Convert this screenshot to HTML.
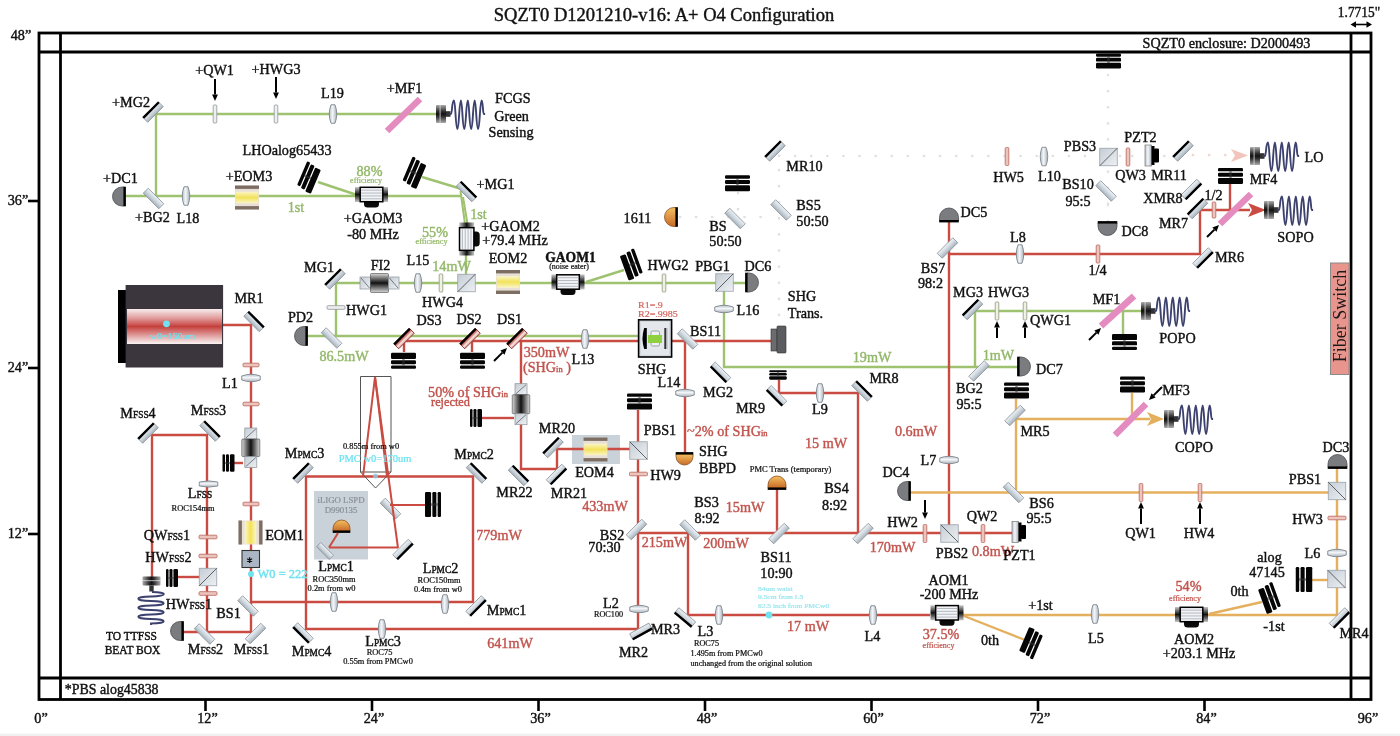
<!DOCTYPE html>
<html><head><meta charset="utf-8"><title>SQZT0 layout</title>
<style>html,body{margin:0;padding:0;background:#fff;}svg{display:block;filter:blur(0.35px);}text{font-family:"Liberation Serif",serif;}</style>
</head><body>
<svg width="1400" height="736" viewBox="0 0 1400 736">
<defs>
<linearGradient id="gMir" x1="0" y1="0" x2="0" y2="1"><stop offset="0" stop-color="#eef3f7"/><stop offset="0.5" stop-color="#cfd8df"/><stop offset="1" stop-color="#a8b2bb"/></linearGradient>
<linearGradient id="gDark" x1="0" y1="0" x2="0" y2="1"><stop offset="0" stop-color="#902828"/><stop offset="0.4" stop-color="#d27a72"/><stop offset="0.65" stop-color="#f6e2de"/><stop offset="1" stop-color="#e2a098"/></linearGradient>
<linearGradient id="gLensV" x1="0" y1="0" x2="1" y2="0"><stop offset="0" stop-color="#b8c0c8"/><stop offset="0.45" stop-color="#f4f7fa"/><stop offset="1" stop-color="#a8b0b8"/></linearGradient>
<linearGradient id="gLensH" x1="0" y1="0" x2="0" y2="1"><stop offset="0" stop-color="#b8c0c8"/><stop offset="0.45" stop-color="#f4f7fa"/><stop offset="1" stop-color="#a8b0b8"/></linearGradient>
<linearGradient id="gPbs" x1="0" y1="0" x2="1" y2="1"><stop offset="0" stop-color="#c4ccd4"/><stop offset="1" stop-color="#eef1f4"/></linearGradient>
<linearGradient id="gYel" x1="0" y1="0" x2="0" y2="1"><stop offset="0" stop-color="#fbf6c8"/><stop offset="0.5" stop-color="#f2e25a"/><stop offset="1" stop-color="#fbf6c8"/></linearGradient>
<linearGradient id="gAom" x1="0" y1="0" x2="0" y2="1"><stop offset="0" stop-color="#eef0f2"/><stop offset="1" stop-color="#c8ccd0"/></linearGradient>
<linearGradient id="gCoup" x1="0" y1="0" x2="0" y2="1"><stop offset="0" stop-color="#aaa"/><stop offset="0.35" stop-color="#333"/><stop offset="0.5" stop-color="#111"/><stop offset="0.65" stop-color="#333"/><stop offset="1" stop-color="#aaa"/></linearGradient>
<linearGradient id="gOrange" x1="0" y1="0" x2="0" y2="1"><stop offset="0" stop-color="#f4c060"/><stop offset="1" stop-color="#c86a28"/></linearGradient>
<linearGradient id="gLaser" x1="0" y1="0" x2="0" y2="1"><stop offset="0" stop-color="#f6ecec"/><stop offset="0.25" stop-color="#e2a0a0"/><stop offset="0.5" stop-color="#c4403c"/><stop offset="0.72" stop-color="#dc9090"/><stop offset="1" stop-color="#faf4f4"/></linearGradient>
<linearGradient id="gFI" x1="0" y1="0" x2="1" y2="0"><stop offset="0" stop-color="#d8d8d8"/><stop offset="0.5" stop-color="#111"/><stop offset="1" stop-color="#d8d8d8"/></linearGradient>
<linearGradient id="gFIv" x1="0" y1="0" x2="0" y2="1"><stop offset="0" stop-color="#d8d8d8"/><stop offset="0.5" stop-color="#111"/><stop offset="1" stop-color="#d8d8d8"/></linearGradient>
<linearGradient id="gCap" x1="0" y1="0" x2="0" y2="1"><stop offset="0" stop-color="#c8c8c8"/><stop offset="0.5" stop-color="#111"/><stop offset="1" stop-color="#c8c8c8"/></linearGradient>
<linearGradient id="gCoupV" x1="0" y1="0" x2="1" y2="0"><stop offset="0" stop-color="#aaa"/><stop offset="0.35" stop-color="#333"/><stop offset="0.5" stop-color="#111"/><stop offset="0.65" stop-color="#333"/><stop offset="1" stop-color="#aaa"/></linearGradient>
</defs>
<rect width="1400" height="736" fill="#fff"/>
<rect x="0" y="733.5" width="1400" height="2.5" fill="#f1f1f1"/>
<rect x="39" y="33" width="1332" height="666.5" fill="none" stroke="#000" stroke-width="2.8"/>
<line x1="39" y1="52" x2="1371" y2="52" stroke="#000" stroke-width="2.8" />
<line x1="39" y1="678" x2="1371" y2="678" stroke="#000" stroke-width="2.8" />
<line x1="60.5" y1="33" x2="60.5" y2="699.5" stroke="#000" stroke-width="2.8" />
<line x1="1351" y1="33" x2="1351" y2="699.5" stroke="#000" stroke-width="2.8" />
<line x1="28" y1="201" x2="39" y2="201" stroke="#000" stroke-width="2.6" />
<line x1="28" y1="368" x2="39" y2="368" stroke="#000" stroke-width="2.6" />
<line x1="28" y1="534" x2="39" y2="534" stroke="#000" stroke-width="2.6" />
<text transform="translate(21,39.7) scale(1,1.065)" font-size="14.2" fill="#111" stroke="#111" stroke-width="0.4" text-anchor="middle" >48”</text>
<text transform="translate(18,205.2) scale(1,1.065)" font-size="14.2" fill="#111" stroke="#111" stroke-width="0.4" text-anchor="middle" >36”</text>
<text transform="translate(18,372.2) scale(1,1.065)" font-size="14.2" fill="#111" stroke="#111" stroke-width="0.4" text-anchor="middle" >24”</text>
<text transform="translate(18,538.2) scale(1,1.065)" font-size="14.2" fill="#111" stroke="#111" stroke-width="0.4" text-anchor="middle" >12”</text>
<line x1="205.5" y1="699" x2="205.5" y2="711" stroke="#000" stroke-width="2.6" />
<line x1="372.0" y1="699" x2="372.0" y2="711" stroke="#000" stroke-width="2.6" />
<line x1="538.5" y1="699" x2="538.5" y2="711" stroke="#000" stroke-width="2.6" />
<line x1="705.0" y1="699" x2="705.0" y2="711" stroke="#000" stroke-width="2.6" />
<line x1="871.5" y1="699" x2="871.5" y2="711" stroke="#000" stroke-width="2.6" />
<line x1="1038.0" y1="699" x2="1038.0" y2="711" stroke="#000" stroke-width="2.6" />
<line x1="1204.5" y1="699" x2="1204.5" y2="711" stroke="#000" stroke-width="2.6" />
<text transform="translate(41.0,723.0) scale(1,1.065)" font-size="14.2" fill="#111" stroke="#111" stroke-width="0.4" text-anchor="middle" >0”</text>
<text transform="translate(207.5,723.0) scale(1,1.065)" font-size="14.2" fill="#111" stroke="#111" stroke-width="0.4" text-anchor="middle" >12”</text>
<text transform="translate(374.0,723.0) scale(1,1.065)" font-size="14.2" fill="#111" stroke="#111" stroke-width="0.4" text-anchor="middle" >24”</text>
<text transform="translate(540.5,723.0) scale(1,1.065)" font-size="14.2" fill="#111" stroke="#111" stroke-width="0.4" text-anchor="middle" >36”</text>
<text transform="translate(707.0,723.0) scale(1,1.065)" font-size="14.2" fill="#111" stroke="#111" stroke-width="0.4" text-anchor="middle" >48”</text>
<text transform="translate(873.5,723.0) scale(1,1.065)" font-size="14.2" fill="#111" stroke="#111" stroke-width="0.4" text-anchor="middle" >60”</text>
<text transform="translate(1040.0,723.0) scale(1,1.065)" font-size="14.2" fill="#111" stroke="#111" stroke-width="0.4" text-anchor="middle" >72”</text>
<text transform="translate(1206.5,723.0) scale(1,1.065)" font-size="14.2" fill="#111" stroke="#111" stroke-width="0.4" text-anchor="middle" >84”</text>
<text transform="translate(1368,723.0) scale(1,1.065)" font-size="14.2" fill="#111" stroke="#111" stroke-width="0.4" text-anchor="middle" >96”</text>
<text x="664" y="21.4" font-size="18.5" fill="#111" stroke="#111" stroke-width="0.4" text-anchor="middle" >SQZT0 D1201210-v16: A+ O4 Configuration</text>
<text transform="translate(1359,17.0) scale(1,1.065)" font-size="13.4" fill="#111" stroke="#111" stroke-width="0.4" text-anchor="middle" >1.7715"</text>
<line x1="1354" y1="24.5" x2="1368" y2="24.5" stroke="#000" stroke-width="1.6" />
<path d="M1350.5,24.5 L1356,21.3 L1356,27.7 Z M1372,24.5 L1366.5,21.3 L1366.5,27.7 Z" fill="#000"/>
<text transform="translate(1226.5,47.5) scale(1,1.065)" font-size="14.2" fill="#111" stroke="#111" stroke-width="0.4" text-anchor="middle" >SQZT0 enclosure: D2000493</text>
<text transform="translate(64.8,694.2) scale(1,1.065)" font-size="13.9" fill="#111" stroke="#111" stroke-width="0.4" >*PBS alog45838</text>
<rect x="314" y="491" width="54" height="68.5" fill="#c9d1d9"/>
<text transform="translate(341,503) scale(1,0.9)" font-size="8.8" fill="#8a9198" stroke="#8a9198" stroke-width="0.24" text-anchor="middle" >iLIGO LSPD</text>
<text transform="translate(341,513) scale(1,0.9)" font-size="8.8" fill="#8a9198" stroke="#8a9198" stroke-width="0.24" text-anchor="middle" >D990135</text>
<rect x="572" y="435" width="48" height="29" fill="#c9d1d9"/>
<polyline points="779,156 1100,156" fill="none" stroke="#e0e0e4" stroke-width="2.6" stroke-dasharray="0.1 16" stroke-linecap="round"/>
<polyline points="1116,156 1183,156" fill="none" stroke="#e0e0e4" stroke-width="2.6" stroke-dasharray="0.1 16" stroke-linecap="round"/>
<polyline points="779,170 779,330" fill="none" stroke="#e0e0e4" stroke-width="2.6" stroke-dasharray="0.1 16" stroke-linecap="round"/>
<polyline points="680,217 771,217" fill="none" stroke="#e0e0e4" stroke-width="2.6" stroke-dasharray="0.1 16" stroke-linecap="round"/>
<polyline points="738,193 738,210" fill="none" stroke="#e0e0e4" stroke-width="2.6" stroke-dasharray="0.1 16" stroke-linecap="round"/>
<polyline points="1108,75 1108,205" fill="none" stroke="#e0e0e4" stroke-width="2.6" stroke-dasharray="0.1 16" stroke-linecap="round"/>
<polyline points="1108,205 1108,222" fill="none" stroke="#e0e0e4" stroke-width="2.6" stroke-dasharray="0.1 16" stroke-linecap="round"/>
<polyline points="1193,155 1232,155" fill="none" stroke="#f4d4d0" stroke-width="2.6" stroke-dasharray="0.1 16" stroke-linecap="round"/>
<path d="M1248,155.5 L1231,149 L1235,155.5 L1231,162 Z" fill="#f2c4bc"/>
<polyline points="1120,156 1128,156" fill="none" stroke="#e0e0e4" stroke-width="2.6" stroke-dasharray="0.1 16" stroke-linecap="round"/>
<polyline points="436,114 156,114 156,196" fill="none" stroke="#9ec26f" stroke-width="2.4" stroke-opacity="1"/>
<polyline points="125,196 461,196" fill="none" stroke="#9ec26f" stroke-width="2.4" stroke-opacity="1"/>
<polyline points="318,182 357,195" fill="none" stroke="#9ec26f" stroke-width="2.4" stroke-opacity="1"/>
<polyline points="422,177 460,188.5" fill="none" stroke="#9ec26f" stroke-width="2.4" stroke-opacity="1"/>
<polyline points="460.5,191 465,224" fill="none" stroke="#9ec26f" stroke-width="2.0" stroke-opacity="1"/>
<polyline points="463,197 467.5,224" fill="none" stroke="#9ec26f" stroke-width="2.0" stroke-opacity="1"/>
<polyline points="466,254 466,283" fill="none" stroke="#9ec26f" stroke-width="2.4" stroke-opacity="1"/>
<polyline points="746,283 336,283 336,336" fill="none" stroke="#9ec26f" stroke-width="2.4" stroke-opacity="1"/>
<polyline points="586,282 624,270" fill="none" stroke="#9ec26f" stroke-width="2.4" stroke-opacity="1"/>
<polyline points="307,336 640,336" fill="none" stroke="#9ec26f" stroke-width="2.4" stroke-opacity="1"/>
<polyline points="724,283 724,367 1018,367" fill="none" stroke="#9ec26f" stroke-width="2.4" stroke-opacity="1"/>
<polyline points="975,367 975,311 1141,311" fill="none" stroke="#9ec26f" stroke-width="2.4" stroke-opacity="1"/>
<polyline points="1123,311 1123,334" fill="none" stroke="#9ec26f" stroke-width="2.4" stroke-opacity="1"/>
<polyline points="222,325 251,325 251,632 183,632" fill="none" stroke="#ca4b41" stroke-width="2.4" stroke-opacity="1"/>
<polyline points="152,577 152,435 207,435 207,632" fill="none" stroke="#ca4b41" stroke-width="2.4" stroke-opacity="1"/>
<polyline points="234,463 243,463" fill="none" stroke="#ca4b41" stroke-width="2.4" stroke-opacity="1"/>
<polyline points="178,577 200,577" fill="none" stroke="#ca4b41" stroke-width="2.4" stroke-opacity="1"/>
<polyline points="251,602 473,602 473,476.5 306,476.5 306,629 638,629" fill="none" stroke="#ca4b41" stroke-width="2.4" stroke-opacity="1"/>
<polyline points="404,352 404,341 640,341" fill="none" stroke="#ca4b41" stroke-width="2.4" stroke-opacity="1"/>
<polyline points="472,352 472,341" fill="none" stroke="#ca4b41" stroke-width="2.4" stroke-opacity="1"/>
<polyline points="521,341 521,469 557,469 557,449 638,449" fill="none" stroke="#ca4b41" stroke-width="2.4" stroke-opacity="1"/>
<polyline points="482,418 514,418" fill="none" stroke="#ca4b41" stroke-width="2.4" stroke-opacity="1"/>
<polyline points="671,341 771,341" fill="none" stroke="#ca4b41" stroke-width="2.4" stroke-opacity="1"/>
<polyline points="685,341 685,453" fill="none" stroke="#ca4b41" stroke-width="2.4" stroke-opacity="1"/>
<polyline points="638,410 638,629" fill="none" stroke="#ca4b41" stroke-width="2.4" stroke-opacity="1"/>
<polyline points="638,533 1012,533" fill="none" stroke="#ca4b41" stroke-width="2.4" stroke-opacity="1"/>
<polyline points="688,533 688,615 930,615" fill="none" stroke="#ca4b41" stroke-width="2.4" stroke-opacity="1"/>
<polyline points="777,489 777,533" fill="none" stroke="#ca4b41" stroke-width="2.4" stroke-opacity="1"/>
<polyline points="779,380 779,393 858,393 858,533" fill="none" stroke="#ca4b41" stroke-width="2.4" stroke-opacity="1"/>
<polyline points="949,221 949,533" fill="none" stroke="#ca4b41" stroke-width="2.4" stroke-opacity="1"/>
<polyline points="949,254 1200,254 1200,210 1250,210" fill="none" stroke="#ca4b41" stroke-width="2.4" stroke-opacity="1"/>
<polyline points="1230,184 1230,210" fill="none" stroke="#ca4b41" stroke-width="2.4" stroke-opacity="1"/>
<path d="M1266,210 L1248,203 L1252,210 L1248,217 Z" fill="#ca4b41"/>
<polyline points="910,492.5 1337,492.5" fill="none" stroke="#e4b05e" stroke-width="2.4" stroke-opacity="1"/>
<polyline points="1016,399 1016,492.5" fill="none" stroke="#e4b05e" stroke-width="2.4" stroke-opacity="1"/>
<polyline points="1016,419 1150,419" fill="none" stroke="#e4b05e" stroke-width="2.4" stroke-opacity="1"/>
<path d="M1164,419 L1147,412 L1151,419 L1147,426 Z" fill="#e4b05e"/>
<polyline points="1132,393 1132,419" fill="none" stroke="#e4b05e" stroke-width="2.4" stroke-opacity="1"/>
<polyline points="1337,468 1337,615 963,615" fill="none" stroke="#e4b05e" stroke-width="2.4" stroke-opacity="1"/>
<polyline points="1312,580 1337,580" fill="none" stroke="#e4b05e" stroke-width="2.4" stroke-opacity="1"/>
<polyline points="964,616 1025,640" fill="none" stroke="#e4b05e" stroke-width="2.4" stroke-opacity="1"/>
<polyline points="1209,614 1262,602" fill="none" stroke="#e4b05e" stroke-width="2.4" stroke-opacity="1"/>
<g transform="translate(153,112) rotate(-45)"><rect x="-11.0" y="-3.5" width="22" height="7" fill="url(#gMir)" stroke="#8d9399" stroke-width="0.8"/><rect x="-11.0" y="-4.0" width="22" height="2.4" fill="#000"/></g>
<g transform="translate(466.5,191.5) rotate(45)"><rect x="-11.0" y="-3.5" width="22" height="7" fill="url(#gMir)" stroke="#8d9399" stroke-width="0.8"/><rect x="-11.0" y="-4.0" width="22" height="2.4" fill="#000"/></g>
<g transform="translate(153.5,198.5) rotate(45)"><rect x="-11.0" y="-3.5" width="22" height="7" fill="url(#gMir)" stroke="#8d9399" stroke-width="0.8"/></g>
<g transform="translate(254,321.5) rotate(45)"><rect x="-11.0" y="-3.5" width="22" height="7" fill="url(#gMir)" stroke="#8d9399" stroke-width="0.8"/><rect x="-11.0" y="-4.0" width="22" height="2.4" fill="#000"/></g>
<g transform="translate(335,279) rotate(-45)"><rect x="-11.0" y="-3.5" width="22" height="7" fill="url(#gMir)" stroke="#8d9399" stroke-width="0.8"/><rect x="-11.0" y="-4.0" width="22" height="2.4" fill="#000"/></g>
<g transform="translate(331.5,338) rotate(45)"><rect x="-11.0" y="-3.5" width="22" height="7" fill="url(#gMir)" stroke="#8d9399" stroke-width="0.8"/></g>
<g transform="translate(148,433) rotate(-45)"><rect x="-11.0" y="-3.5" width="22" height="7" fill="url(#gMir)" stroke="#8d9399" stroke-width="0.8"/><rect x="-11.0" y="-4.0" width="22" height="2.4" fill="#000"/></g>
<g transform="translate(210,431) rotate(45)"><rect x="-11.0" y="-3.5" width="22" height="7" fill="url(#gMir)" stroke="#8d9399" stroke-width="0.8"/><rect x="-11.0" y="-4.0" width="22" height="2.4" fill="#000"/></g>
<g transform="translate(248,606) rotate(45)"><rect x="-11.0" y="-3.5" width="22" height="7" fill="url(#gMir)" stroke="#8d9399" stroke-width="0.8"/></g>
<g transform="translate(204.5,634) rotate(45)"><rect x="-11.0" y="-3.5" width="22" height="7" fill="url(#gMir)" stroke="#8d9399" stroke-width="0.8"/></g>
<g transform="translate(255.5,633.5) rotate(-45)"><rect x="-11.0" y="-3.5" width="22" height="7" fill="url(#gMir)" stroke="#8d9399" stroke-width="0.8"/></g>
<g transform="translate(303,473) rotate(-45)"><rect x="-11.0" y="-3.5" width="22" height="7" fill="url(#gMir)" stroke="#8d9399" stroke-width="0.8"/><rect x="-11.0" y="-4.0" width="22" height="2.4" fill="#000"/></g>
<g transform="translate(303,633) rotate(45)"><rect x="-11.0" y="-3.5" width="22" height="7" fill="url(#gMir)" stroke="#8d9399" stroke-width="0.8"/><rect x="-11.0" y="1.6" width="22" height="2.4" fill="#000"/></g>
<g transform="translate(476.5,473) rotate(45)"><rect x="-11.0" y="-3.5" width="22" height="7" fill="url(#gMir)" stroke="#8d9399" stroke-width="0.8"/><rect x="-11.0" y="-4.0" width="22" height="2.4" fill="#000"/></g>
<g transform="translate(476,606) rotate(-45)"><rect x="-11.0" y="-3.5" width="22" height="7" fill="url(#gMir)" stroke="#8d9399" stroke-width="0.8"/><rect x="-11.0" y="1.6" width="22" height="2.4" fill="#000"/></g>
<g transform="translate(390.5,508.5) rotate(45)"><rect x="-11.0" y="-3.5" width="22" height="7" fill="url(#gMir)" stroke="#8d9399" stroke-width="0.8"/></g>
<g transform="translate(325,551) rotate(45)"><rect x="-9.0" y="-3.0" width="18" height="6" fill="url(#gMir)" stroke="#8d9399" stroke-width="0.8"/></g>
<g transform="translate(403,549.5) rotate(-45)"><rect x="-11.0" y="-3.5" width="22" height="7" fill="url(#gMir)" stroke="#8d9399" stroke-width="0.8"/><rect x="-11.0" y="1.6" width="22" height="2.4" fill="#000"/></g>
<g transform="translate(404,338.5) rotate(-45)"><rect x="-11.0" y="-3.5" width="22" height="7" fill="url(#gDark)" stroke="#7a2020" stroke-width="0.8"/><rect x="-11.0" y="-4.0" width="22" height="2.4" fill="#000"/></g>
<g transform="translate(470,338.5) rotate(-45)"><rect x="-11.0" y="-3.5" width="22" height="7" fill="url(#gDark)" stroke="#7a2020" stroke-width="0.8"/><rect x="-11.0" y="-4.0" width="22" height="2.4" fill="#000"/></g>
<g transform="translate(517,338.5) rotate(-45)"><rect x="-11.0" y="-3.5" width="22" height="7" fill="url(#gDark)" stroke="#7a2020" stroke-width="0.8"/><rect x="-11.0" y="-4.0" width="22" height="2.4" fill="#000"/></g>
<g transform="translate(553,447.5) rotate(-45)"><rect x="-11.0" y="-3.5" width="22" height="7" fill="url(#gMir)" stroke="#8d9399" stroke-width="0.8"/><rect x="-11.0" y="-4.0" width="22" height="2.4" fill="#000"/></g>
<g transform="translate(518.5,475.5) rotate(45)"><rect x="-11.0" y="-3.5" width="22" height="7" fill="url(#gMir)" stroke="#8d9399" stroke-width="0.8"/><rect x="-11.0" y="-4.0" width="22" height="2.4" fill="#000"/></g>
<g transform="translate(556.5,474.5) rotate(-45)"><rect x="-11.0" y="-3.5" width="22" height="7" fill="url(#gMir)" stroke="#8d9399" stroke-width="0.8"/><rect x="-11.0" y="1.6" width="22" height="2.4" fill="#000"/></g>
<g transform="translate(687.5,339) rotate(45)"><rect x="-11.0" y="-3.5" width="22" height="7" fill="url(#gMir)" stroke="#8d9399" stroke-width="0.8"/></g>
<g transform="translate(720.5,372.3) rotate(45)"><rect x="-11.0" y="-3.5" width="22" height="7" fill="url(#gMir)" stroke="#8d9399" stroke-width="0.8"/><rect x="-11.0" y="1.6" width="22" height="2.4" fill="#000"/></g>
<g transform="translate(776.5,395.8) rotate(45)"><rect x="-11.0" y="-3.5" width="22" height="7" fill="url(#gMir)" stroke="#8d9399" stroke-width="0.8"/><rect x="-11.0" y="1.6" width="22" height="2.4" fill="#000"/></g>
<g transform="translate(862,391) rotate(45)"><rect x="-11.0" y="-3.5" width="22" height="7" fill="url(#gMir)" stroke="#8d9399" stroke-width="0.8"/><rect x="-11.0" y="-4.0" width="22" height="2.4" fill="#000"/></g>
<g transform="translate(775,151) rotate(-45)"><rect x="-11.0" y="-3.5" width="22" height="7" fill="url(#gMir)" stroke="#8d9399" stroke-width="0.8"/><rect x="-11.0" y="-4.0" width="22" height="2.4" fill="#000"/></g>
<g transform="translate(781,210) rotate(45)"><rect x="-11.0" y="-3.5" width="22" height="7" fill="url(#gMir)" stroke="#8d9399" stroke-width="0.8"/></g>
<g transform="translate(735,218.5) rotate(45)"><rect x="-11.0" y="-3.5" width="22" height="7" fill="url(#gMir)" stroke="#8d9399" stroke-width="0.8"/></g>
<g transform="translate(636.5,529.5) rotate(-45)"><rect x="-11.0" y="-3.5" width="22" height="7" fill="url(#gMir)" stroke="#8d9399" stroke-width="0.8"/></g>
<g transform="translate(690,530) rotate(45)"><rect x="-11.0" y="-3.5" width="22" height="7" fill="url(#gMir)" stroke="#8d9399" stroke-width="0.8"/></g>
<g transform="translate(779,533.5) rotate(-45)"><rect x="-11.0" y="-3.5" width="22" height="7" fill="url(#gMir)" stroke="#8d9399" stroke-width="0.8"/></g>
<g transform="translate(863,533.5) rotate(-45)"><rect x="-11.0" y="-3.5" width="22" height="7" fill="url(#gMir)" stroke="#8d9399" stroke-width="0.8"/></g>
<g transform="translate(641,631.5) rotate(-29)"><rect x="-11.0" y="-3.5" width="22" height="7" fill="url(#gMir)" stroke="#8d9399" stroke-width="0.8"/><rect x="-11.0" y="1.6" width="22" height="2.4" fill="#000"/></g>
<g transform="translate(685,617.5) rotate(40)"><rect x="-11.0" y="-3.5" width="22" height="7" fill="url(#gMir)" stroke="#8d9399" stroke-width="0.8"/><rect x="-11.0" y="1.6" width="22" height="2.4" fill="#000"/></g>
<g transform="translate(947.5,248) rotate(-45)"><rect x="-11.0" y="-3.5" width="22" height="7" fill="url(#gMir)" stroke="#8d9399" stroke-width="0.8"/></g>
<g transform="translate(972.5,309.5) rotate(-45)"><rect x="-11.0" y="-3.5" width="22" height="7" fill="url(#gMir)" stroke="#8d9399" stroke-width="0.8"/><rect x="-11.0" y="-4.0" width="22" height="2.4" fill="#000"/></g>
<g transform="translate(979,371) rotate(-45)"><rect x="-11.0" y="-3.5" width="22" height="7" fill="url(#gMir)" stroke="#8d9399" stroke-width="0.8"/></g>
<g transform="translate(1015,415.5) rotate(-45)"><rect x="-11.0" y="-3.5" width="22" height="7" fill="url(#gMir)" stroke="#8d9399" stroke-width="0.8"/></g>
<g transform="translate(1013.5,492.5) rotate(45)"><rect x="-11.0" y="-3.5" width="22" height="7" fill="url(#gMir)" stroke="#8d9399" stroke-width="0.8"/></g>
<g transform="translate(1106,191) rotate(45)"><rect x="-11.0" y="-3.5" width="22" height="7" fill="url(#gMir)" stroke="#8d9399" stroke-width="0.8"/></g>
<g transform="translate(1183,151) rotate(-45)"><rect x="-11.0" y="-3.5" width="22" height="7" fill="url(#gMir)" stroke="#8d9399" stroke-width="0.8"/><rect x="-11.0" y="-4.0" width="22" height="2.4" fill="#000"/></g>
<g transform="translate(1191.5,189.5) rotate(-45)"><rect x="-11.0" y="-3.5" width="22" height="7" fill="url(#gMir)" stroke="#8d9399" stroke-width="0.8"/><rect x="-11.0" y="1.6" width="22" height="2.4" fill="#000"/></g>
<g transform="translate(1197.5,208.5) rotate(-45)"><rect x="-11.0" y="-3.5" width="22" height="7" fill="url(#gMir)" stroke="#8d9399" stroke-width="0.8"/><rect x="-11.0" y="-4.0" width="22" height="2.4" fill="#000"/></g>
<g transform="translate(1203,258) rotate(-45)"><rect x="-11.0" y="-3.5" width="22" height="7" fill="url(#gMir)" stroke="#8d9399" stroke-width="0.8"/><rect x="-11.0" y="1.6" width="22" height="2.4" fill="#000"/></g>
<g transform="translate(1339.5,618) rotate(-45)"><rect x="-11.0" y="-3.5" width="22" height="7" fill="url(#gMir)" stroke="#8d9399" stroke-width="0.8"/><rect x="-11.0" y="1.6" width="22" height="2.4" fill="#000"/></g>
<rect x="213.2" y="105.0" width="3.6" height="18" rx="1" fill="#eef0f0" stroke="#9aa0a4" stroke-width="0.9"/>
<rect x="274.2" y="105.0" width="3.6" height="18" rx="1" fill="#eef0f0" stroke="#9aa0a4" stroke-width="0.9"/>
<path d="M331.0,104.75 L335.0,104.75 Q338.5,114 335.0,123.25 L331.0,123.25 Q327.5,114 331.0,104.75 Z" fill="url(#gLensV)" stroke="#7e878f" stroke-width="0.9"/>
<path d="M184.0,186.75 L188.0,186.75 Q191.5,196 188.0,205.25 L184.0,205.25 Q180.5,196 184.0,186.75 Z" fill="url(#gLensV)" stroke="#7e878f" stroke-width="0.9"/>
<path d="M416.0,273.75 L420.0,273.75 Q423.5,283 420.0,292.25 L416.0,292.25 Q412.5,283 416.0,273.75 Z" fill="url(#gLensV)" stroke="#7e878f" stroke-width="0.9"/>
<rect x="439.2" y="274.0" width="3.6" height="18" rx="1" fill="#eef2e4" stroke="#9aa088" stroke-width="0.9"/>
<rect x="662.2" y="274.0" width="3.6" height="18" rx="1" fill="#eef2e4" stroke="#9aa088" stroke-width="0.9"/>
<path d="M583.0,329.75 L587.0,329.75 Q590.5,339 587.0,348.25 L583.0,348.25 Q579.5,339 583.0,329.75 Z" fill="url(#gLensV)" stroke="#7e878f" stroke-width="0.9"/>
<path d="M818.0,383.75 L822.0,383.75 Q825.5,393 822.0,402.25 L818.0,402.25 Q814.5,393 818.0,383.75 Z" fill="url(#gLensV)" stroke="#7e878f" stroke-width="0.9"/>
<path d="M1018.0,244.75 L1022.0,244.75 Q1025.5,254 1022.0,263.25 L1018.0,263.25 Q1014.5,254 1018.0,244.75 Z" fill="url(#gLensV)" stroke="#7e878f" stroke-width="0.9"/>
<rect x="1096.2" y="245.0" width="3.6" height="18" rx="1" fill="#ecc4be" stroke="#c07068" stroke-width="0.9"/>
<rect x="1005.2" y="147.5" width="3.6" height="18" rx="1" fill="#ecc4be" stroke="#c07068" stroke-width="0.9"/>
<path d="M1042.0,147.25 L1046.0,147.25 Q1049.5,156.5 1046.0,165.75 L1042.0,165.75 Q1038.5,156.5 1042.0,147.25 Z" fill="url(#gLensV)" stroke="#7e878f" stroke-width="0.9"/>
<rect x="1126.2" y="148.0" width="3.6" height="18" rx="1" fill="#ecc4be" stroke="#c07068" stroke-width="0.9"/>
<rect x="1212.2" y="202.0" width="3.6" height="16" rx="1" fill="#ecc4be" stroke="#c07068" stroke-width="0.9"/>
<rect x="995.2" y="302.0" width="3.6" height="18" rx="1" fill="#eef2e4" stroke="#9aa088" stroke-width="0.9"/>
<rect x="1023.2" y="302.0" width="3.6" height="18" rx="1" fill="#eef2e4" stroke="#9aa088" stroke-width="0.9"/>
<rect x="1139.2" y="483.5" width="3.6" height="18" rx="1" fill="#ecc4be" stroke="#c07068" stroke-width="0.9"/>
<rect x="1198.2" y="483.5" width="3.6" height="18" rx="1" fill="#ecc4be" stroke="#c07068" stroke-width="0.9"/>
<rect x="923.2" y="524.5" width="3.6" height="18" rx="1" fill="#ecc4be" stroke="#c07068" stroke-width="0.9"/>
<rect x="981.2" y="524.5" width="3.6" height="18" rx="1" fill="#ecc4be" stroke="#c07068" stroke-width="0.9"/>
<path d="M717.0,605.75 L721.0,605.75 Q724.5,615 721.0,624.25 L717.0,624.25 Q713.5,615 717.0,605.75 Z" fill="url(#gLensV)" stroke="#7e878f" stroke-width="0.9"/>
<path d="M871.0,605.75 L875.0,605.75 Q878.5,615 875.0,624.25 L871.0,624.25 Q867.5,615 871.0,605.75 Z" fill="url(#gLensV)" stroke="#7e878f" stroke-width="0.9"/>
<path d="M1093.0,604.75 L1097.0,604.75 Q1100.5,614 1097.0,623.25 L1093.0,623.25 Q1089.5,614 1093.0,604.75 Z" fill="url(#gLensV)" stroke="#7e878f" stroke-width="0.9"/>
<path d="M332.0,592.75 L336.0,592.75 Q339.5,602 336.0,611.25 L332.0,611.25 Q328.5,602 332.0,592.75 Z" fill="url(#gLensV)" stroke="#7e878f" stroke-width="0.9"/>
<path d="M443.0,594.75 L447.0,594.75 Q450.5,604 447.0,613.25 L443.0,613.25 Q439.5,604 443.0,594.75 Z" fill="url(#gLensV)" stroke="#7e878f" stroke-width="0.9"/>
<path d="M380.0,619.75 L384.0,619.75 Q387.5,629 384.0,638.25 L380.0,638.25 Q376.5,629 380.0,619.75 Z" fill="url(#gLensV)" stroke="#7e878f" stroke-width="0.9"/>
<path d="M241.75,376.0 L241.75,380.0 Q251,383.5 260.25,380.0 L260.25,376.0 Q251,372.5 241.75,376.0 Z" fill="url(#gLensH)" stroke="#7e878f" stroke-width="0.9"/>
<rect x="243.0" y="363.2" width="16" height="3.6" rx="1" fill="#ecc4be" stroke="#c07068" stroke-width="0.9"/>
<rect x="243.0" y="402.2" width="16" height="3.6" rx="1" fill="#ecc4be" stroke="#c07068" stroke-width="0.9"/>
<rect x="243.0" y="502.2" width="16" height="3.6" rx="1" fill="#ecc4be" stroke="#c07068" stroke-width="0.9"/>
<path d="M199.25,482.0 L199.25,486.0 Q208.5,488.2 217.75,486.0 L217.75,482.0 Q208.5,479.8 199.25,482.0 Z" fill="url(#gLensH)" stroke="#7e878f" stroke-width="0.9"/>
<rect x="199.0" y="535.2" width="18" height="3.6" rx="1" fill="#ecc4be" stroke="#c07068" stroke-width="0.9"/>
<rect x="199.0" y="554.2" width="18" height="3.6" rx="1" fill="#ecc4be" stroke="#c07068" stroke-width="0.9"/>
<rect x="199.0" y="591.7" width="18" height="3.6" rx="1" fill="#ecc4be" stroke="#c07068" stroke-width="0.9"/>
<rect x="327.0" y="305.7" width="18" height="3.6" rx="1" fill="#eef0f0" stroke="#9aa0a4" stroke-width="0.9"/>
<path d="M714.75,307.0 L714.75,311.0 Q724,314.5 733.25,311.0 L733.25,307.0 Q724,303.5 714.75,307.0 Z" fill="url(#gLensH)" stroke="#7e878f" stroke-width="0.9"/>
<path d="M675.75,391.0 L675.75,395.0 Q685,398.5 694.25,395.0 L694.25,391.0 Q685,387.5 675.75,391.0 Z" fill="url(#gLensH)" stroke="#7e878f" stroke-width="0.9"/>
<rect x="629.5" y="472.2" width="18" height="3.6" rx="1" fill="#ecc4be" stroke="#c07068" stroke-width="0.9"/>
<path d="M629.75,607.0 L629.75,611.0 Q639,614.5 648.25,611.0 L648.25,607.0 Q639,603.5 629.75,607.0 Z" fill="url(#gLensH)" stroke="#7e878f" stroke-width="0.9"/>
<path d="M939.75,458.0 L939.75,462.0 Q949,465.5 958.25,462.0 L958.25,458.0 Q949,454.5 939.75,458.0 Z" fill="url(#gLensH)" stroke="#7e878f" stroke-width="0.9"/>
<rect x="1328.0" y="516.2" width="18" height="3.6" rx="1" fill="#ecc4be" stroke="#c07068" stroke-width="0.9"/>
<path d="M1327.75,551.0 L1327.75,555.0 Q1337,558.5 1346.25,555.0 L1346.25,551.0 Q1337,547.5 1327.75,551.0 Z" fill="url(#gLensH)" stroke="#7e878f" stroke-width="0.9"/>
<rect x="457.75" y="274.25" width="17.5" height="17.5" fill="url(#gPbs)" stroke="#9aa2a8" stroke-width="0.8"/>
<line x1="457.75" y1="291.75" x2="475.25" y2="274.25" stroke="#4a5258" stroke-width="0.9" />
<rect x="715.75" y="273.75" width="17.5" height="17.5" fill="url(#gPbs)" stroke="#9aa2a8" stroke-width="0.8"/>
<line x1="715.75" y1="291.25" x2="733.25" y2="273.75" stroke="#4a5258" stroke-width="0.9" />
<rect x="199.25" y="568.25" width="17.5" height="17.5" fill="url(#gPbs)" stroke="#9aa2a8" stroke-width="0.8"/>
<line x1="199.25" y1="585.75" x2="216.75" y2="568.25" stroke="#4a5258" stroke-width="0.9" />
<rect x="629.75" y="441.75" width="17.5" height="17.5" fill="url(#gPbs)" stroke="#9aa2a8" stroke-width="0.8"/>
<line x1="629.75" y1="441.75" x2="647.25" y2="459.25" stroke="#4a5258" stroke-width="0.9" />
<rect x="1099.75" y="148.25" width="17.5" height="17.5" fill="url(#gPbs)" stroke="#9aa2a8" stroke-width="0.8"/>
<line x1="1099.75" y1="165.75" x2="1117.25" y2="148.25" stroke="#4a5258" stroke-width="0.9" />
<rect x="940.75" y="524.75" width="17.5" height="17.5" fill="url(#gPbs)" stroke="#9aa2a8" stroke-width="0.8"/>
<line x1="940.75" y1="524.75" x2="958.25" y2="542.25" stroke="#4a5258" stroke-width="0.9" />
<rect x="1328.25" y="482.25" width="17.5" height="17.5" fill="url(#gPbs)" stroke="#9aa2a8" stroke-width="0.8"/>
<line x1="1328.25" y1="482.25" x2="1345.75" y2="499.75" stroke="#4a5258" stroke-width="0.9" />
<rect x="1327.75" y="570.25" width="17.5" height="17.5" fill="url(#gPbs)" stroke="#9aa2a8" stroke-width="0.8"/>
<line x1="1327.75" y1="570.25" x2="1345.25" y2="587.75" stroke="#4a5258" stroke-width="0.9" />
<path d="M124,187.0 L122,187.0 A9.5 9.5 0 0 0 122,206.0 L124,206.0 Z" fill="#7a7c80" stroke="#4a4c50" stroke-width="0.8"/><rect x="123.5" y="186.7" width="2.4" height="19.6" fill="#000"/>
<path d="M306,326.5 L304,326.5 A9.5 9.5 0 0 0 304,345.5 L306,345.5 Z" fill="#7a7c80" stroke="#4a4c50" stroke-width="0.8"/><rect x="305.5" y="326.2" width="2.4" height="19.6" fill="#000"/>
<path d="M747,273.0 L749,273.0 A9.5 9.5 0 0 1 749,292.0 L747,292.0 Z" fill="#7a7c80" stroke="#4a4c50" stroke-width="0.8"/><rect x="745.1" y="272.7" width="2.4" height="19.6" fill="#000"/>
<path d="M676,207.5 L674,207.5 A9.5 9.5 0 0 0 674,226.5 L676,226.5 Z" fill="url(#gOrange)" stroke="#8a5020" stroke-width="0.8"/><rect x="675.5" y="207.2" width="2.4" height="19.6" fill="#000"/>
<path d="M939.5,220.5 L939.5,217.5 A9.5 9.5 0 0 1 958.5,217.5 L958.5,220.5 Z" fill="#7a7c80" stroke="#4a4c50" stroke-width="0.8"/><rect x="939.2" y="220.0" width="19.6" height="2.4" fill="#000"/>
<path d="M1098.0,223 L1098.0,226 A9.5 9.5 0 0 0 1117.0,226 L1117.0,223 Z" fill="#7a7c80" stroke="#4a4c50" stroke-width="0.8"/><rect x="1097.7" y="221.1" width="19.6" height="2.4" fill="#000"/>
<path d="M1019,357.0 L1021,357.0 A9.5 9.5 0 0 1 1021,376.0 L1019,376.0 Z" fill="#7a7c80" stroke="#4a4c50" stroke-width="0.8"/><rect x="1017.1" y="356.7" width="2.4" height="19.6" fill="#000"/>
<path d="M909,481.5 L907,481.5 A9.5 9.5 0 0 0 907,500.5 L909,500.5 Z" fill="#7a7c80" stroke="#4a4c50" stroke-width="0.8"/><rect x="908.5" y="481.2" width="2.4" height="19.6" fill="#000"/>
<path d="M1328.0,467 L1328.0,464 A9.5 9.5 0 0 1 1347.0,464 L1347.0,467 Z" fill="#7a7c80" stroke="#4a4c50" stroke-width="0.8"/><rect x="1327.7" y="466.5" width="19.6" height="2.4" fill="#000"/>
<path d="M182,621.5 L180,621.5 A9.5 9.5 0 0 0 180,640.5 L182,640.5 Z" fill="#7a7c80" stroke="#4a4c50" stroke-width="0.8"/><rect x="181.5" y="621.2" width="2.4" height="19.6" fill="#000"/>
<path d="M676.0,454 L676.0,456.5 A8.5 8.5 0 0 0 693.0,456.5 L693.0,454 Z" fill="url(#gOrange)" stroke="#8a5020" stroke-width="0.8"/><rect x="675.7" y="452.1" width="17.6" height="2.4" fill="#000"/>
<path d="M768,488 L768,485 A9 9 0 0 1 786,485 L786,488 Z" fill="url(#gOrange)" stroke="#8a5020" stroke-width="0.8"/><rect x="767.7" y="487.5" width="18.6" height="2.4" fill="#000"/>
<path d="M333.0,531 L333.0,528.5 A8.5 8.5 0 0 1 350.0,528.5 L350.0,531 Z" fill="url(#gOrange)" stroke="#8a5020" stroke-width="0.8"/><rect x="332.7" y="530.5" width="17.6" height="2.4" fill="#000"/>
<g transform="translate(309,177.5) rotate(-67)"><rect x="-11.70" y="-8.00" width="26" height="3.36" rx="1.20" fill="#050505"/><rect x="-13.00" y="-3.36" width="26" height="4.00" rx="1.20" fill="#050505"/><rect x="-14.30" y="1.92" width="26" height="6.08" rx="1.20" fill="#050505"/><rect x="-1.30" y="-4.84" width="2.60" height="6.96" fill="#333" opacity="0.55"/></g>
<g transform="translate(414.5,172.8) rotate(-67)"><rect x="-11.70" y="-8.00" width="26" height="3.36" rx="1.20" fill="#050505"/><rect x="-13.00" y="-3.36" width="26" height="4.00" rx="1.20" fill="#050505"/><rect x="-14.30" y="1.92" width="26" height="6.08" rx="1.20" fill="#050505"/><rect x="-1.30" y="-4.84" width="2.60" height="6.96" fill="#333" opacity="0.55"/></g>
<g transform="translate(631.3,264.5) rotate(70)"><rect x="-14.30" y="-8.00" width="26" height="3.36" rx="1.20" fill="#050505"/><rect x="-13.00" y="-3.36" width="26" height="4.00" rx="1.20" fill="#050505"/><rect x="-11.70" y="1.92" width="26" height="6.08" rx="1.20" fill="#050505"/><rect x="-1.30" y="-4.84" width="2.60" height="6.96" fill="#333" opacity="0.55"/></g>
<g transform="translate(737.5,183.3) rotate(0)"><rect x="-12.50" y="-8.00" width="25" height="3.36" rx="1.20" fill="#050505"/><rect x="-12.50" y="-3.36" width="25" height="4.00" rx="1.20" fill="#050505"/><rect x="-12.50" y="1.92" width="25" height="6.08" rx="1.20" fill="#050505"/><rect x="-1.25" y="-4.84" width="2.50" height="6.96" fill="#333" opacity="0.55"/></g>
<g transform="translate(403.5,360.8) rotate(180)"><rect x="-12.50" y="-8.00" width="25" height="3.36" rx="1.20" fill="#050505"/><rect x="-12.50" y="-3.36" width="25" height="4.00" rx="1.20" fill="#050505"/><rect x="-12.50" y="1.92" width="25" height="6.08" rx="1.20" fill="#050505"/><rect x="-1.25" y="-4.84" width="2.50" height="6.96" fill="#333" opacity="0.55"/></g>
<g transform="translate(472.5,360.8) rotate(180)"><rect x="-12.50" y="-8.00" width="25" height="3.36" rx="1.20" fill="#050505"/><rect x="-12.50" y="-3.36" width="25" height="4.00" rx="1.20" fill="#050505"/><rect x="-12.50" y="1.92" width="25" height="6.08" rx="1.20" fill="#050505"/><rect x="-1.25" y="-4.84" width="2.50" height="6.96" fill="#333" opacity="0.55"/></g>
<g transform="translate(476,418) rotate(-90)"><rect x="-9.00" y="-6.00" width="18" height="2.52" rx="1.20" fill="#050505"/><rect x="-9.00" y="-2.52" width="18" height="3.00" rx="1.20" fill="#050505"/><rect x="-9.00" y="1.44" width="18" height="4.56" rx="1.20" fill="#050505"/><rect x="-0.90" y="-3.68" width="1.80" height="5.32" fill="#333" opacity="0.55"/></g>
<g transform="translate(228.5,463) rotate(-90)"><rect x="-8.75" y="-6.00" width="17.5" height="2.52" rx="1.20" fill="#050505"/><rect x="-8.75" y="-2.52" width="17.5" height="3.00" rx="1.20" fill="#050505"/><rect x="-8.75" y="1.44" width="17.5" height="4.56" rx="1.20" fill="#050505"/><rect x="-0.88" y="-3.68" width="1.75" height="5.32" fill="#333" opacity="0.55"/></g>
<g transform="translate(172,578) rotate(-90)"><rect x="-9.00" y="-6.00" width="18" height="2.52" rx="1.20" fill="#050505"/><rect x="-9.00" y="-2.52" width="18" height="3.00" rx="1.20" fill="#050505"/><rect x="-9.00" y="1.44" width="18" height="4.56" rx="1.20" fill="#050505"/><rect x="-0.90" y="-3.68" width="1.80" height="5.32" fill="#333" opacity="0.55"/></g>
<g transform="translate(433,504.5) rotate(90)"><rect x="-12.50" y="-8.00" width="25" height="3.36" rx="1.20" fill="#050505"/><rect x="-12.50" y="-3.36" width="25" height="4.00" rx="1.20" fill="#050505"/><rect x="-12.50" y="1.92" width="25" height="6.08" rx="1.20" fill="#050505"/><rect x="-1.25" y="-4.84" width="2.50" height="6.96" fill="#333" opacity="0.55"/></g>
<g transform="translate(639.5,401.5) rotate(0)"><rect x="-12.50" y="-8.00" width="25" height="3.36" rx="1.20" fill="#050505"/><rect x="-12.50" y="-3.36" width="25" height="4.00" rx="1.20" fill="#050505"/><rect x="-12.50" y="1.92" width="25" height="6.08" rx="1.20" fill="#050505"/><rect x="-1.25" y="-4.84" width="2.50" height="6.96" fill="#333" opacity="0.55"/></g>
<g transform="translate(778,375) rotate(0)"><rect x="-8.75" y="-4.75" width="17.5" height="1.99" rx="1.00" fill="#050505"/><rect x="-8.75" y="-1.99" width="17.5" height="2.38" rx="1.19" fill="#050505"/><rect x="-8.75" y="1.14" width="17.5" height="3.61" rx="1.20" fill="#050505"/><rect x="-0.88" y="-2.96" width="1.75" height="4.29" fill="#333" opacity="0.55"/></g>
<g transform="translate(1108.5,61) rotate(0)"><rect x="-12.50" y="-7.50" width="25" height="3.15" rx="1.20" fill="#050505"/><rect x="-12.50" y="-3.15" width="25" height="3.75" rx="1.20" fill="#050505"/><rect x="-12.50" y="1.80" width="25" height="5.70" rx="1.20" fill="#050505"/><rect x="-1.25" y="-4.55" width="2.50" height="6.55" fill="#333" opacity="0.55"/></g>
<g transform="translate(1230.5,176) rotate(0)"><rect x="-12.50" y="-8.00" width="25" height="3.36" rx="1.20" fill="#050505"/><rect x="-12.50" y="-3.36" width="25" height="4.00" rx="1.20" fill="#050505"/><rect x="-12.50" y="1.92" width="25" height="6.08" rx="1.20" fill="#050505"/><rect x="-1.25" y="-4.84" width="2.50" height="6.96" fill="#333" opacity="0.55"/></g>
<g transform="translate(1124.5,342) rotate(180)"><rect x="-12.50" y="-8.00" width="25" height="3.36" rx="1.20" fill="#050505"/><rect x="-12.50" y="-3.36" width="25" height="4.00" rx="1.20" fill="#050505"/><rect x="-12.50" y="1.92" width="25" height="6.08" rx="1.20" fill="#050505"/><rect x="-1.25" y="-4.84" width="2.50" height="6.96" fill="#333" opacity="0.55"/></g>
<g transform="translate(1016.5,390.5) rotate(0)"><rect x="-12.50" y="-8.00" width="25" height="3.36" rx="1.20" fill="#050505"/><rect x="-12.50" y="-3.36" width="25" height="4.00" rx="1.20" fill="#050505"/><rect x="-12.50" y="1.92" width="25" height="6.08" rx="1.20" fill="#050505"/><rect x="-1.25" y="-4.84" width="2.50" height="6.96" fill="#333" opacity="0.55"/></g>
<g transform="translate(1132.5,384.5) rotate(0)"><rect x="-12.50" y="-8.00" width="25" height="3.36" rx="1.20" fill="#050505"/><rect x="-12.50" y="-3.36" width="25" height="4.00" rx="1.20" fill="#050505"/><rect x="-12.50" y="1.92" width="25" height="6.08" rx="1.20" fill="#050505"/><rect x="-1.25" y="-4.84" width="2.50" height="6.96" fill="#333" opacity="0.55"/></g>
<g transform="translate(1304,579.5) rotate(-90)"><rect x="-12.50" y="-8.25" width="25" height="3.46" rx="1.20" fill="#050505"/><rect x="-12.50" y="-3.46" width="25" height="4.12" rx="1.20" fill="#050505"/><rect x="-12.50" y="1.98" width="25" height="6.27" rx="1.20" fill="#050505"/><rect x="-1.25" y="-4.99" width="2.50" height="7.17" fill="#333" opacity="0.55"/></g>
<g transform="translate(1031,643.2) rotate(113)"><rect x="-11.70" y="-8.00" width="26" height="3.36" rx="1.20" fill="#050505"/><rect x="-13.00" y="-3.36" width="26" height="4.00" rx="1.20" fill="#050505"/><rect x="-14.30" y="1.92" width="26" height="6.08" rx="1.20" fill="#050505"/><rect x="-1.30" y="-4.84" width="2.60" height="6.96" fill="#333" opacity="0.55"/></g>
<g transform="translate(1269.5,598) rotate(70)"><rect x="-14.30" y="-8.00" width="26" height="3.36" rx="1.20" fill="#050505"/><rect x="-13.00" y="-3.36" width="26" height="4.00" rx="1.20" fill="#050505"/><rect x="-11.70" y="1.92" width="26" height="6.08" rx="1.20" fill="#050505"/><rect x="-1.30" y="-4.84" width="2.60" height="6.96" fill="#333" opacity="0.55"/></g>
<g transform="translate(436,114)"><rect x="0" y="-9" width="10" height="18" rx="1" fill="url(#gCoup)"/><rect x="3.5" y="-9" width="1.2" height="18" fill="#ddd" opacity="0.7"/><rect x="10" y="-2.8" width="4.5" height="5.6" fill="#333"/></g>
<path d="M449,114 L451,114 C452.2,114 451.8,100.5 454,100.5 C455.5,100.5 455.5,129 457.45,129 C459.15,129 459.15,100.5 460.9,100.5 C462.4,100.5 462.4,129 464.34999999999997,129 C466.04999999999995,129 466.04999999999995,100.5 467.79999999999995,100.5 C469.29999999999995,100.5 469.29999999999995,129 471.24999999999994,129 C472.94999999999993,129 472.94999999999993,100.5 474.69999999999993,100.5 C476.19999999999993,100.5 476.19999999999993,129 478.1499999999999,129 C479.8499999999999,129 479.8499999999999,100.5 481.5999999999999,100.5 C482.9999999999999,100.5 482.7999999999999,114 483.7999999999999,114 L485.0999999999999,114" fill="none" stroke="#3c416e" stroke-width="1.9"/>
<g transform="translate(1250,156)"><rect x="0" y="-9" width="10" height="18" rx="1" fill="url(#gCoup)"/><rect x="3.5" y="-9" width="1.2" height="18" fill="#ddd" opacity="0.7"/><rect x="10" y="-2.8" width="4.5" height="5.6" fill="#333"/></g>
<path d="M1263,156 L1265,156 C1266.2,156 1265.8,142.5 1268,142.5 C1269.5,142.5 1269.5,171 1271.45,171 C1273.15,171 1273.15,142.5 1274.9,142.5 C1276.4,142.5 1276.4,171 1278.3500000000001,171 C1280.0500000000002,171 1280.0500000000002,142.5 1281.8000000000002,142.5 C1283.3000000000002,142.5 1283.3000000000002,171 1285.2500000000002,171 C1286.9500000000003,171 1286.9500000000003,142.5 1288.7000000000003,142.5 C1290.2000000000003,142.5 1290.2000000000003,171 1292.1500000000003,171 C1293.8500000000004,171 1293.8500000000004,142.5 1295.6000000000004,142.5 C1297.0000000000005,142.5 1296.8000000000004,156 1297.8000000000004,156 L1299.1000000000004,156" fill="none" stroke="#3c416e" stroke-width="1.9"/>
<g transform="translate(1264,210)"><rect x="0" y="-9" width="10" height="18" rx="1" fill="url(#gCoup)"/><rect x="3.5" y="-9" width="1.2" height="18" fill="#ddd" opacity="0.7"/><rect x="10" y="-2.8" width="4.5" height="5.6" fill="#333"/></g>
<path d="M1277,210 L1279,210 C1280.2,210 1279.8,196.5 1282,196.5 C1283.5,196.5 1283.5,225 1285.45,225 C1287.15,225 1287.15,196.5 1288.9,196.5 C1290.4,196.5 1290.4,225 1292.3500000000001,225 C1294.0500000000002,225 1294.0500000000002,196.5 1295.8000000000002,196.5 C1297.3000000000002,196.5 1297.3000000000002,225 1299.2500000000002,225 C1300.9500000000003,225 1300.9500000000003,196.5 1302.7000000000003,196.5 C1304.2000000000003,196.5 1304.2000000000003,225 1306.1500000000003,225 C1307.8500000000004,225 1307.8500000000004,196.5 1309.6000000000004,196.5 C1311.0000000000005,196.5 1310.8000000000004,210 1311.8000000000004,210 L1313.1000000000004,210" fill="none" stroke="#3c416e" stroke-width="1.9"/>
<g transform="translate(1141,311)"><rect x="0" y="-9" width="10" height="18" rx="1" fill="url(#gCoup)"/><rect x="3.5" y="-9" width="1.2" height="18" fill="#ddd" opacity="0.7"/><rect x="10" y="-2.8" width="4.5" height="5.6" fill="#333"/></g>
<path d="M1154,311 L1156,311 C1157.2,311 1156.8,297.5 1159,297.5 C1160.5,297.5 1160.5,326 1162.45,326 C1164.15,326 1164.15,297.5 1165.9,297.5 C1167.4,297.5 1167.4,326 1169.3500000000001,326 C1171.0500000000002,326 1171.0500000000002,297.5 1172.8000000000002,297.5 C1174.3000000000002,297.5 1174.3000000000002,326 1176.2500000000002,326 C1177.9500000000003,326 1177.9500000000003,297.5 1179.7000000000003,297.5 C1181.2000000000003,297.5 1181.2000000000003,326 1183.1500000000003,326 C1184.8500000000004,326 1184.8500000000004,297.5 1186.6000000000004,297.5 C1188.0000000000005,297.5 1187.8000000000004,311 1188.8000000000004,311 L1190.1000000000004,311" fill="none" stroke="#3c416e" stroke-width="1.9"/>
<g transform="translate(1164,419)"><rect x="0" y="-9" width="10" height="18" rx="1" fill="url(#gCoup)"/><rect x="3.5" y="-9" width="1.2" height="18" fill="#ddd" opacity="0.7"/><rect x="10" y="-2.8" width="4.5" height="5.6" fill="#333"/></g>
<path d="M1177,419 L1179,419 C1180.2,419 1179.8,405.5 1182,405.5 C1183.5,405.5 1183.5,434 1185.45,434 C1187.15,434 1187.15,405.5 1188.9,405.5 C1190.4,405.5 1190.4,434 1192.3500000000001,434 C1194.0500000000002,434 1194.0500000000002,405.5 1195.8000000000002,405.5 C1197.3000000000002,405.5 1197.3000000000002,434 1199.2500000000002,434 C1200.9500000000003,434 1200.9500000000003,405.5 1202.7000000000003,405.5 C1204.2000000000003,405.5 1204.2000000000003,434 1206.1500000000003,434 C1207.8500000000004,434 1207.8500000000004,405.5 1209.6000000000004,405.5 C1211.0000000000005,405.5 1210.8000000000004,419 1211.8000000000004,419 L1213.1000000000004,419" fill="none" stroke="#3c416e" stroke-width="1.9"/>
<g transform="translate(151.5,576.5)"><rect x="-9" y="0" width="18" height="9" rx="1" fill="url(#gCoupV)"/><rect x="-9" y="3.5" width="18" height="1.2" fill="#eee" opacity="0.6"/><rect x="-2.2" y="9" width="4.4" height="6" fill="#333"/></g>
<path d="M152,592 C168,592 168,596.5 151,596.5 C134,596.5 134,601 151,601 C168,601 168,605.5 151,605.5 C134,605.5 134,610 151,610 C168,610 168,614.5 151,614.5 C134,614.5 134,619 151,619 C168,619 168,623.5 151,623.5 L151,625" fill="none" stroke="#3c416e" stroke-width="1.9"/>
<g transform="translate(247,197.5) rotate(0)"><rect x="-12.0" y="-12.0" width="24" height="24" fill="#e8dfd6"/><rect x="-12.0" y="-12.0" width="24" height="3.4" fill="#7d6e64"/><rect x="-12.0" y="8.6" width="24" height="3.4" fill="#7d6e64"/><rect x="-11.2" y="-5.8" width="22.4" height="11.6" fill="url(#gYel)"/></g>
<g transform="translate(508,282) rotate(0)"><rect x="-12.0" y="-12.0" width="24" height="24" fill="#e8dfd6"/><rect x="-12.0" y="-12.0" width="24" height="3.4" fill="#7d6e64"/><rect x="-12.0" y="8.6" width="24" height="3.4" fill="#7d6e64"/><rect x="-11.2" y="-5.8" width="22.4" height="11.6" fill="url(#gYel)"/></g>
<g transform="translate(595.5,449.5) rotate(0)"><rect x="-12.0" y="-12.0" width="24" height="24" fill="#e8dfd6"/><rect x="-12.0" y="-12.0" width="24" height="3.4" fill="#7d6e64"/><rect x="-12.0" y="8.6" width="24" height="3.4" fill="#7d6e64"/><rect x="-11.2" y="-5.8" width="22.4" height="11.6" fill="url(#gYel)"/></g>
<g transform="translate(250.5,532.5) rotate(90)"><rect x="-12.0" y="-12.0" width="24" height="24" fill="#e8dfd6"/><rect x="-12.0" y="-12.0" width="24" height="3.4" fill="#7d6e64"/><rect x="-12.0" y="8.6" width="24" height="3.4" fill="#7d6e64"/><rect x="-11.2" y="-5.8" width="22.4" height="11.6" fill="url(#gYel)"/></g>
<g transform="translate(371.5,194.5) rotate(0)"><rect x="-7.5" y="4.5" width="15" height="8.5" rx="3.5" fill="#0a0a0a"/><rect x="-16.5" y="-7.5" width="5.5" height="15" fill="url(#gCap)"/><rect x="11.0" y="-7.5" width="5.5" height="15" fill="url(#gCap)"/><rect x="-11.3" y="-7.2" width="22.6" height="14.4" fill="#f2f4f7" stroke="#000" stroke-width="1.5"/><line x1="-10.5" y1="-4.32" x2="10.5" y2="-4.32" stroke="#9aa0a8" stroke-width="0.7"/><line x1="-10.5" y1="-1.44" x2="10.5" y2="-1.44" stroke="#9aa0a8" stroke-width="0.7"/><line x1="-10.5" y1="1.44" x2="10.5" y2="1.44" stroke="#9aa0a8" stroke-width="0.7"/><line x1="-10.5" y1="4.32" x2="10.5" y2="4.32" stroke="#9aa0a8" stroke-width="0.7"/></g>
<g transform="translate(568,282) rotate(0)"><rect x="-7.5" y="4.5" width="15" height="8.5" rx="3.5" fill="#0a0a0a"/><rect x="-16.5" y="-7.5" width="5.5" height="15" fill="url(#gCap)"/><rect x="11.0" y="-7.5" width="5.5" height="15" fill="url(#gCap)"/><rect x="-11.3" y="-7.2" width="22.6" height="14.4" fill="#f2f4f7" stroke="#000" stroke-width="1.5"/><line x1="-10.5" y1="-4.32" x2="10.5" y2="-4.32" stroke="#9aa0a8" stroke-width="0.7"/><line x1="-10.5" y1="-1.44" x2="10.5" y2="-1.44" stroke="#9aa0a8" stroke-width="0.7"/><line x1="-10.5" y1="1.44" x2="10.5" y2="1.44" stroke="#9aa0a8" stroke-width="0.7"/><line x1="-10.5" y1="4.32" x2="10.5" y2="4.32" stroke="#9aa0a8" stroke-width="0.7"/></g>
<g transform="translate(947,612.8) rotate(0)"><rect x="-7.5" y="4.5" width="15" height="8.5" rx="3.5" fill="#0a0a0a"/><rect x="-16.5" y="-7.5" width="5.5" height="15" fill="url(#gCap)"/><rect x="11.0" y="-7.5" width="5.5" height="15" fill="url(#gCap)"/><rect x="-11.3" y="-7.2" width="22.6" height="14.4" fill="#f2f4f7" stroke="#000" stroke-width="1.5"/><line x1="-10.5" y1="-4.32" x2="10.5" y2="-4.32" stroke="#9aa0a8" stroke-width="0.7"/><line x1="-10.5" y1="-1.44" x2="10.5" y2="-1.44" stroke="#9aa0a8" stroke-width="0.7"/><line x1="-10.5" y1="1.44" x2="10.5" y2="1.44" stroke="#9aa0a8" stroke-width="0.7"/><line x1="-10.5" y1="4.32" x2="10.5" y2="4.32" stroke="#9aa0a8" stroke-width="0.7"/></g>
<g transform="translate(1191.5,614.5) rotate(0)"><rect x="-7.5" y="4.5" width="15" height="8.5" rx="3.5" fill="#0a0a0a"/><rect x="-16.5" y="-7.5" width="5.5" height="15" fill="url(#gCap)"/><rect x="11.0" y="-7.5" width="5.5" height="15" fill="url(#gCap)"/><rect x="-11.3" y="-7.2" width="22.6" height="14.4" fill="#f2f4f7" stroke="#000" stroke-width="1.5"/><line x1="-10.5" y1="-4.32" x2="10.5" y2="-4.32" stroke="#9aa0a8" stroke-width="0.7"/><line x1="-10.5" y1="-1.44" x2="10.5" y2="-1.44" stroke="#9aa0a8" stroke-width="0.7"/><line x1="-10.5" y1="1.44" x2="10.5" y2="1.44" stroke="#9aa0a8" stroke-width="0.7"/><line x1="-10.5" y1="4.32" x2="10.5" y2="4.32" stroke="#9aa0a8" stroke-width="0.7"/></g>
<g transform="translate(466.7,239) rotate(-90)"><rect x="-7.5" y="4.5" width="15" height="8.5" rx="3.5" fill="#0a0a0a"/><rect x="-16.5" y="-7.5" width="5.5" height="15" fill="url(#gCap)"/><rect x="11.0" y="-7.5" width="5.5" height="15" fill="url(#gCap)"/><rect x="-11.3" y="-7.2" width="22.6" height="14.4" fill="#f2f4f7" stroke="#000" stroke-width="1.5"/><line x1="-10.5" y1="-4.32" x2="10.5" y2="-4.32" stroke="#9aa0a8" stroke-width="0.7"/><line x1="-10.5" y1="-1.44" x2="10.5" y2="-1.44" stroke="#9aa0a8" stroke-width="0.7"/><line x1="-10.5" y1="1.44" x2="10.5" y2="1.44" stroke="#9aa0a8" stroke-width="0.7"/><line x1="-10.5" y1="4.32" x2="10.5" y2="4.32" stroke="#9aa0a8" stroke-width="0.7"/></g>
<line x1="387" y1="131" x2="420" y2="99" stroke="#e48cc0" stroke-width="6.5"/>
<line x1="1101" y1="326" x2="1134" y2="296" stroke="#e48cc0" stroke-width="6.5"/>
<line x1="1220" y1="224" x2="1251" y2="194" stroke="#e48cc0" stroke-width="6.5"/>
<line x1="1115" y1="435" x2="1146" y2="404" stroke="#e48cc0" stroke-width="6.5"/>
<line x1="215" y1="79" x2="215.0" y2="94.5" stroke="#000" stroke-width="2.0" />
<path d="M215,101 L212.075,94.5 L217.925,94.5 Z" fill="#000"/>
<line x1="276" y1="77" x2="276.0" y2="92.5" stroke="#000" stroke-width="2.0" />
<path d="M276,99 L273.075,92.5 L278.925,92.5 Z" fill="#000"/>
<line x1="494" y1="361" x2="502.40380592228746" y2="352.59619407771254" stroke="#000" stroke-width="2.0" />
<path d="M507,348 L504.4720932572581,354.6644814126832 L500.3355185873168,350.5279067427419 Z" fill="#000"/>
<line x1="925" y1="500" x2="925.0" y2="512.5" stroke="#000" stroke-width="2.0" />
<path d="M925,519 L922.075,512.5 L927.925,512.5 Z" fill="#000"/>
<line x1="997" y1="338" x2="997.0" y2="327.5" stroke="#000" stroke-width="2.0" />
<path d="M997,321 L999.925,327.5 L994.075,327.5 Z" fill="#000"/>
<line x1="1025" y1="338" x2="1025.0" y2="327.5" stroke="#000" stroke-width="2.0" />
<path d="M1025,321 L1027.925,327.5 L1022.075,327.5 Z" fill="#000"/>
<line x1="1089" y1="340" x2="1096.4038059222873" y2="332.59619407771254" stroke="#000" stroke-width="2.0" />
<path d="M1101,328 L1098.472093257258,334.6644814126832 L1094.3355185873168,330.5279067427419 Z" fill="#000"/>
<line x1="1207" y1="237" x2="1214.4038059222873" y2="229.59619407771257" stroke="#000" stroke-width="2.0" />
<path d="M1219,225 L1216.472093257258,231.66448141268322 L1212.3355185873168,227.52790674274192 Z" fill="#000"/>
<line x1="1162" y1="387" x2="1153.5961940777127" y2="395.40380592228746" stroke="#000" stroke-width="2.0" />
<path d="M1149,400 L1151.527906742742,393.3355185873168 L1155.6644814126832,397.4720932572581 Z" fill="#000"/>
<line x1="1141" y1="524" x2="1141.0" y2="508.5" stroke="#000" stroke-width="2.0" />
<path d="M1141,502 L1143.925,508.5 L1138.075,508.5 Z" fill="#000"/>
<line x1="1200" y1="524" x2="1200.0" y2="508.5" stroke="#000" stroke-width="2.0" />
<path d="M1200,502 L1202.925,508.5 L1197.075,508.5 Z" fill="#000"/>
<rect x="118" y="290" width="8" height="73" fill="#000"/>
<rect x="125.6" y="285" width="97.5" height="82.5" fill="#3b363d"/>
<rect x="127" y="309" width="95" height="35" fill="url(#gLaser)"/>
<circle cx="166.5" cy="323.8" r="3.4" fill="#6fe3f0"/>
<text transform="translate(172.5,338.5) scale(1,0.9)" font-size="10" fill="#6fe3f0" stroke="#6fe3f0" stroke-width="0.24" text-anchor="middle" >w0=160um</text>
<rect x="638.6" y="319.8" width="33" height="37.2" fill="#d4d9de" stroke="#000" stroke-width="1.6"/>
<rect x="641" y="322" width="28" height="33" fill="#e4e8ec"/>
<path d="M646.8,328 L644.2,328 Q640.8,338.5 644.2,349 L646.8,349 Z" fill="#000"/>
<rect x="651" y="331" width="8.5" height="15" rx="1.5" fill="#eef0f2" stroke="#8a9096" stroke-width="0.8"/>
<rect x="648" y="335" width="14" height="8" fill="#8fd040"/>
<rect x="664.3" y="328" width="2.2" height="21" fill="#333"/>
<rect x="666.5" y="328" width="1.5" height="21" fill="#c8ccd0"/>
<rect x="244.8" y="428" width="12" height="11" fill="url(#gPbs)" stroke="#8a9298" stroke-width="0.7"/><line x1="245.8" y1="438" x2="255.8" y2="429" stroke="#5a6268" stroke-width="0.8"/><rect x="241.8" y="439" width="18" height="17.5" rx="1" fill="url(#gFI)" stroke="#444" stroke-width="0.6"/><rect x="244.8" y="456.5" width="12" height="11" fill="url(#gPbs)" stroke="#8a9298" stroke-width="0.7"/><line x1="245.8" y1="466.5" x2="255.8" y2="457.5" stroke="#5a6268" stroke-width="0.8"/>
<rect x="515.0" y="383.7" width="12" height="11" fill="url(#gPbs)" stroke="#8a9298" stroke-width="0.7"/><line x1="516.0" y1="393.7" x2="526.0" y2="384.7" stroke="#5a6268" stroke-width="0.8"/><rect x="512.25" y="394.7" width="17.5" height="19" rx="1" fill="url(#gFI)" stroke="#444" stroke-width="0.6"/><rect x="515.0" y="413.7" width="12" height="11" fill="url(#gPbs)" stroke="#8a9298" stroke-width="0.7"/><line x1="516.0" y1="423.7" x2="526.0" y2="414.7" stroke="#5a6268" stroke-width="0.8"/>
<rect x="360" y="277.0" width="10.5" height="12" fill="url(#gPbs)" stroke="#8a9298" stroke-width="0.7"/><line x1="361" y1="278.0" x2="369.5" y2="288.0" stroke="#5a6268" stroke-width="0.8"/><rect x="370.5" y="273.5" width="18" height="19" rx="1" fill="url(#gFIv)" stroke="#444" stroke-width="0.6"/><rect x="388.5" y="277.0" width="10.5" height="12" fill="url(#gPbs)" stroke="#8a9298" stroke-width="0.7"/><line x1="389.5" y1="278.0" x2="398.0" y2="288.0" stroke="#5a6268" stroke-width="0.8"/>
<path d="M360.5,376.5 L391,376.5 L391,472 L375.5,488 L360.5,472 Z" fill="none" stroke="#555" stroke-width="1"/>
<line x1="360.5" y1="472" x2="391" y2="472" stroke="#555" stroke-width="1"/>
<polyline points="363,476.5 375,377 387,476.5" fill="none" stroke="#ca4b41" stroke-width="2" stroke-opacity="1"/>
<polyline points="375,377 398,548" fill="none" stroke="#ca4b41" stroke-width="2" stroke-opacity="1"/>
<circle cx="375.5" cy="476" r="2.5" fill="#8fc8e8" opacity="0.8"/>
<polyline points="390,505 425,505" fill="none" stroke="#ca4b41" stroke-width="2" stroke-opacity="1"/>
<polyline points="329,547.5 398,547.5" fill="none" stroke="#ca4b41" stroke-width="2" stroke-opacity="1"/>
<polyline points="329,547.5 338,533" fill="none" stroke="#ca4b41" stroke-width="2" stroke-opacity="1"/>
<rect x="1330.5" y="263" width="18.5" height="111.5" fill="#e8958e" stroke="#8a8a8a" stroke-width="1"/>
<text transform="translate(1345.6,316) rotate(-90)" font-size="18" fill="#1a1a1a" text-anchor="middle">Fiber Switch</text>
<rect x="771" y="329" width="6" height="22" fill="#6a6c70" stroke="#333" stroke-width="0.6"/>
<rect x="777" y="326" width="9" height="27" rx="1" fill="#5a5c60" stroke="#333" stroke-width="0.6"/>
<rect x="1145" y="145.0" width="6.5" height="21" fill="url(#gLensV)" stroke="#777" stroke-width="0.7"/><rect x="1151.5" y="146.0" width="3" height="19" fill="#000"/><rect x="1154" y="148.5" width="5" height="14" rx="1" fill="#000"/>
<rect x="1012" y="521.5" width="6.5" height="21" fill="url(#gLensV)" stroke="#777" stroke-width="0.7"/><rect x="1018.5" y="522.5" width="3" height="19" fill="#000"/><rect x="1021" y="525" width="5" height="14" rx="1" fill="#000"/>
<rect x="242" y="550.5" width="17.5" height="17" fill="#aab6c3" stroke="#333" stroke-width="1.1"/>
<path d="M249.6,557.2 L249.6,563 M247.1,558.7 L252.1,561.5 M247.1,561.5 L252.1,558.7" stroke="#111" stroke-width="1.3"/>
<circle cx="251" cy="574" r="3" fill="#6fe3f0"/>
<circle cx="769" cy="615" r="3.4" fill="#6fe3f0"/>
<text transform="translate(131,106.7) scale(1,1.065)" font-size="14.2" fill="#111" stroke="#111" stroke-width="0.4" text-anchor="middle" >+MG2</text>
<text transform="translate(214.5,74.7) scale(1,1.065)" font-size="14.2" fill="#111" stroke="#111" stroke-width="0.4" text-anchor="middle" >+QW1</text>
<text transform="translate(276,73.7) scale(1,1.065)" font-size="14.2" fill="#111" stroke="#111" stroke-width="0.4" text-anchor="middle" >+HWG3</text>
<text transform="translate(332.5,97.7) scale(1,1.065)" font-size="14.2" fill="#111" stroke="#111" stroke-width="0.4" text-anchor="middle" >L19</text>
<text transform="translate(287,154.7) scale(1,1.065)" font-size="14.2" fill="#111" stroke="#111" stroke-width="0.4" text-anchor="middle" >LHOalog65433</text>
<text transform="translate(120.5,182.7) scale(1,1.065)" font-size="14.2" fill="#111" stroke="#111" stroke-width="0.4" text-anchor="middle" >+DC1</text>
<text transform="translate(249,180.7) scale(1,1.065)" font-size="14.2" fill="#111" stroke="#111" stroke-width="0.4" text-anchor="middle" >+EOM3</text>
<text transform="translate(152.5,221.7) scale(1,1.065)" font-size="14.2" fill="#111" stroke="#111" stroke-width="0.4" text-anchor="middle" >+BG2</text>
<text transform="translate(188,222.7) scale(1,1.065)" font-size="14.2" fill="#111" stroke="#111" stroke-width="0.4" text-anchor="middle" >L18</text>
<text transform="translate(296,211.7) scale(1,1.065)" font-size="14.2" fill="#93b86a" stroke="#93b86a" stroke-width="0.4" text-anchor="middle" >1st</text>
<text transform="translate(319,271.7) scale(1,1.065)" font-size="14.2" fill="#111" stroke="#111" stroke-width="0.4" text-anchor="middle" >MG1</text>
<text transform="translate(249,302.7) scale(1,1.065)" font-size="14.2" fill="#111" stroke="#111" stroke-width="0.4" text-anchor="middle" >MR1</text>
<text transform="translate(300.5,321.7) scale(1,1.065)" font-size="14.2" fill="#111" stroke="#111" stroke-width="0.4" text-anchor="middle" >PD2</text>
<text transform="translate(344,360.7) scale(1,1.065)" font-size="14.2" fill="#93b86a" stroke="#93b86a" stroke-width="0.4" text-anchor="middle" >86.5mW</text>
<text transform="translate(230,387.7) scale(1,1.065)" font-size="14.2" fill="#111" stroke="#111" stroke-width="0.4" text-anchor="middle" >L1</text>
<text transform="translate(138,417.7) scale(1,1.065)" font-size="14.2" fill="#111" stroke="#111" stroke-width="0.4" text-anchor="middle" >M<tspan font-size="0.66em">FSS</tspan>4</text>
<text transform="translate(208.5,414.7) scale(1,1.065)" font-size="14.2" fill="#111" stroke="#111" stroke-width="0.4" text-anchor="middle" >M<tspan font-size="0.66em">FSS</tspan>3</text>
<text transform="translate(200,497.7) scale(1,1.065)" font-size="14.2" fill="#111" stroke="#111" stroke-width="0.4" text-anchor="middle" >L<tspan font-size="0.66em">FSS</tspan></text>
<text transform="translate(193,510.8) scale(1,0.9)" font-size="8.4" fill="#111" stroke="#111" stroke-width="0.24" text-anchor="middle" >ROC154mm</text>
<text transform="translate(284.5,539.7) scale(1,1.065)" font-size="14.2" fill="#111" stroke="#111" stroke-width="0.4" text-anchor="middle" >EOM1</text>
<text transform="translate(167,539.7) scale(1,1.065)" font-size="14.2" fill="#111" stroke="#111" stroke-width="0.4" text-anchor="middle" >QW<tspan font-size="0.66em">FSS</tspan>1</text>
<text transform="translate(168.5,561.7) scale(1,1.065)" font-size="14.2" fill="#111" stroke="#111" stroke-width="0.4" text-anchor="middle" >HW<tspan font-size="0.66em">FSS</tspan>2</text>
<text transform="translate(282.5,578.1) scale(1,1.065)" font-size="12.5" fill="#6fe3f0" stroke="#6fe3f0" stroke-width="0.4" text-anchor="middle" >W0 = 222</text>
<text transform="translate(189,608.7) scale(1,1.065)" font-size="14.2" fill="#111" stroke="#111" stroke-width="0.4" text-anchor="middle" >HW<tspan font-size="0.66em">FSS</tspan>1</text>
<text transform="translate(228.5,617.7) scale(1,1.065)" font-size="14.2" fill="#111" stroke="#111" stroke-width="0.4" text-anchor="middle" >BS1</text>
<text transform="translate(131.5,639.8) scale(1,1.065)" font-size="11.5" fill="#111" stroke="#111" stroke-width="0.4" text-anchor="middle" >TO TTFSS</text>
<text transform="translate(132.5,653.8) scale(1,1.065)" font-size="11.5" fill="#111" stroke="#111" stroke-width="0.4" text-anchor="middle" >BEAT BOX</text>
<text transform="translate(205.5,653.7) scale(1,1.065)" font-size="14.2" fill="#111" stroke="#111" stroke-width="0.4" text-anchor="middle" >M<tspan font-size="0.66em">FSS</tspan>2</text>
<text transform="translate(251.5,653.7) scale(1,1.065)" font-size="14.2" fill="#111" stroke="#111" stroke-width="0.4" text-anchor="middle" >M<tspan font-size="0.66em">FSS</tspan>1</text>
<text transform="translate(311.5,655.7) scale(1,1.065)" font-size="14.2" fill="#111" stroke="#111" stroke-width="0.4" text-anchor="middle" >M<tspan font-size="0.66em">PMC</tspan>4</text>
<text transform="translate(304.5,457.7) scale(1,1.065)" font-size="14.2" fill="#111" stroke="#111" stroke-width="0.4" text-anchor="middle" >M<tspan font-size="0.66em">PMC</tspan>3</text>
<text transform="translate(336,570.7) scale(1,1.065)" font-size="14.2" fill="#111" stroke="#111" stroke-width="0.4" text-anchor="middle" >L<tspan font-size="0.66em">PMC</tspan>1</text>
<text transform="translate(334,581.8) scale(1,0.9)" font-size="8.4" fill="#111" stroke="#111" stroke-width="0.24" text-anchor="middle" >ROC350mm</text>
<text transform="translate(331.5,590.8) scale(1,0.9)" font-size="8.4" fill="#111" stroke="#111" stroke-width="0.24" text-anchor="middle" >0.2m from w0</text>
<text transform="translate(371,448.8) scale(1,0.9)" font-size="8.4" fill="#111" stroke="#111" stroke-width="0.24" text-anchor="middle" >0.855m from w0</text>
<text transform="translate(375,461.5) scale(1,0.9)" font-size="10.5" fill="#6fe3f0" stroke="#6fe3f0" stroke-width="0.24" text-anchor="middle" >PMC w0=170um</text>
<text transform="translate(474,458.7) scale(1,1.065)" font-size="14.2" fill="#111" stroke="#111" stroke-width="0.4" text-anchor="middle" >M<tspan font-size="0.66em">PMC</tspan>2</text>
<text transform="translate(499,539.7) scale(1,1.065)" font-size="14.2" fill="#c2544e" stroke="#c2544e" stroke-width="0.4" text-anchor="middle" >779mW</text>
<text transform="translate(440.5,572.7) scale(1,1.065)" font-size="14.2" fill="#111" stroke="#111" stroke-width="0.4" text-anchor="middle" >L<tspan font-size="0.66em">PMC</tspan>2</text>
<text transform="translate(439,582.8) scale(1,0.9)" font-size="8.4" fill="#111" stroke="#111" stroke-width="0.24" text-anchor="middle" >ROC150mm</text>
<text transform="translate(438,591.8) scale(1,0.9)" font-size="8.4" fill="#111" stroke="#111" stroke-width="0.24" text-anchor="middle" >0.4m from w0</text>
<text transform="translate(506.5,614.7) scale(1,1.065)" font-size="14.2" fill="#111" stroke="#111" stroke-width="0.4" text-anchor="middle" >M<tspan font-size="0.66em">PMC</tspan>1</text>
<text transform="translate(383,645.7) scale(1,1.065)" font-size="14.2" fill="#111" stroke="#111" stroke-width="0.4" text-anchor="middle" >L<tspan font-size="0.66em">PMC</tspan>3</text>
<text transform="translate(379.5,654.8) scale(1,0.9)" font-size="8.4" fill="#111" stroke="#111" stroke-width="0.24" text-anchor="middle" >ROC75</text>
<text transform="translate(378,663.8) scale(1,0.9)" font-size="8.4" fill="#111" stroke="#111" stroke-width="0.24" text-anchor="middle" >0.55m from PMCw0</text>
<text transform="translate(510,647.7) scale(1,1.065)" font-size="14.2" fill="#c2544e" stroke="#c2544e" stroke-width="0.4" text-anchor="middle" >641mW</text>
<text transform="translate(404.5,92.7) scale(1,1.065)" font-size="14.2" fill="#111" stroke="#111" stroke-width="0.4" text-anchor="middle" >+MF1</text>
<text transform="translate(512.8,103.2) scale(1,1.065)" font-size="14.2" fill="#111" stroke="#111" stroke-width="0.4" text-anchor="middle" >FCGS</text>
<text transform="translate(511.5,120.7) scale(1,1.065)" font-size="14.2" fill="#111" stroke="#111" stroke-width="0.4" text-anchor="middle" >Green</text>
<text transform="translate(511,137.2) scale(1,1.065)" font-size="14.2" fill="#111" stroke="#111" stroke-width="0.4" text-anchor="middle" >Sensing</text>
<text transform="translate(369.5,175.7) scale(1,1.065)" font-size="14.2" fill="#93b86a" stroke="#93b86a" stroke-width="0.4" text-anchor="middle" >88%</text>
<text transform="translate(366,182.6) scale(1,0.9)" font-size="8" fill="#93b86a" stroke="#93b86a" stroke-width="0.24" text-anchor="middle" >efficiency</text>
<text transform="translate(373,222.7) scale(1,1.065)" font-size="14.2" fill="#111" stroke="#111" stroke-width="0.4" text-anchor="middle" >+GAOM3</text>
<text transform="translate(373,238.7) scale(1,1.065)" font-size="14.2" fill="#111" stroke="#111" stroke-width="0.4" text-anchor="middle" >-80 MHz</text>
<text transform="translate(495.5,188.7) scale(1,1.065)" font-size="14.2" fill="#111" stroke="#111" stroke-width="0.4" text-anchor="middle" >+MG1</text>
<text transform="translate(478.5,218.7) scale(1,1.065)" font-size="14.2" fill="#93b86a" stroke="#93b86a" stroke-width="0.4" text-anchor="middle" >1st</text>
<text transform="translate(510.5,230.7) scale(1,1.065)" font-size="14.2" fill="#111" stroke="#111" stroke-width="0.4" text-anchor="middle" >+GAOM2</text>
<text transform="translate(515,244.7) scale(1,1.065)" font-size="14.2" fill="#111" stroke="#111" stroke-width="0.4" text-anchor="middle" >+79.4 MHz</text>
<text transform="translate(435,236.7) scale(1,1.065)" font-size="14.2" fill="#93b86a" stroke="#93b86a" stroke-width="0.4" text-anchor="middle" >55%</text>
<text transform="translate(431.5,243.6) scale(1,0.9)" font-size="8" fill="#93b86a" stroke="#93b86a" stroke-width="0.24" text-anchor="middle" >efficiency</text>
<text transform="translate(380.5,269.7) scale(1,1.065)" font-size="14.2" fill="#111" stroke="#111" stroke-width="0.4" text-anchor="middle" >FI2</text>
<text transform="translate(418,264.7) scale(1,1.065)" font-size="14.2" fill="#111" stroke="#111" stroke-width="0.4" text-anchor="middle" >L15</text>
<text transform="translate(451.5,270.7) scale(1,1.065)" font-size="14.2" fill="#93b86a" stroke="#93b86a" stroke-width="0.4" text-anchor="middle" >14mW</text>
<text transform="translate(442.5,306.7) scale(1,1.065)" font-size="14.2" fill="#111" stroke="#111" stroke-width="0.4" text-anchor="middle" >HWG4</text>
<text transform="translate(508,262.7) scale(1,1.065)" font-size="14.2" fill="#111" stroke="#111" stroke-width="0.4" text-anchor="middle" >EOM2</text>
<text transform="translate(570.5,261.5) scale(1,1.065)" font-size="13.6" fill="#111" stroke="#111" stroke-width="0.4" text-anchor="middle" font-weight="bold" >GAOM1</text>
<text transform="translate(569,269.1) scale(1,0.9)" font-size="8" fill="#111" stroke="#111" stroke-width="0.24" text-anchor="middle" >(noise eater)</text>
<text transform="translate(366.5,314.7) scale(1,1.065)" font-size="14.2" fill="#111" stroke="#111" stroke-width="0.4" text-anchor="middle" >HWG1</text>
<text transform="translate(429,324.7) scale(1,1.065)" font-size="14.2" fill="#111" stroke="#111" stroke-width="0.4" text-anchor="middle" >DS3</text>
<text transform="translate(469,323.7) scale(1,1.065)" font-size="14.2" fill="#111" stroke="#111" stroke-width="0.4" text-anchor="middle" >DS2</text>
<text transform="translate(509.5,323.7) scale(1,1.065)" font-size="14.2" fill="#111" stroke="#111" stroke-width="0.4" text-anchor="middle" >DS1</text>
<text transform="translate(546.5,356.7) scale(1,1.065)" font-size="14.2" fill="#c2544e" stroke="#c2544e" stroke-width="0.4" text-anchor="middle" >350mW</text>
<text transform="translate(547,371.7) scale(1,1.065)" font-size="14.2" fill="#c2544e" stroke="#c2544e" stroke-width="0.4" text-anchor="middle" >(SHG<tspan font-size="0.6em">in</tspan> )</text>
<text transform="translate(583,363.7) scale(1,1.065)" font-size="14.2" fill="#111" stroke="#111" stroke-width="0.4" text-anchor="middle" >L13</text>
<text transform="translate(468,396.7) scale(1,1.065)" font-size="14.2" fill="#c2544e" stroke="#c2544e" stroke-width="0.4" text-anchor="middle" >50% of SHG<tspan font-size="0.6em">in</tspan></text>
<text transform="translate(450.5,406.1) scale(1,1.065)" font-size="12.3" fill="#c2544e" stroke="#c2544e" stroke-width="0.4" text-anchor="middle" >rejected</text>
<text transform="translate(557,432.7) scale(1,1.065)" font-size="14.2" fill="#111" stroke="#111" stroke-width="0.4" text-anchor="middle" >MR20</text>
<text transform="translate(514.5,496.7) scale(1,1.065)" font-size="14.2" fill="#111" stroke="#111" stroke-width="0.4" text-anchor="middle" >MR22</text>
<text transform="translate(569,497.7) scale(1,1.065)" font-size="14.2" fill="#111" stroke="#111" stroke-width="0.4" text-anchor="middle" >MR21</text>
<text transform="translate(594.5,476.7) scale(1,1.065)" font-size="14.2" fill="#111" stroke="#111" stroke-width="0.4" text-anchor="middle" >EOM4</text>
<text transform="translate(605,510.7) scale(1,1.065)" font-size="14.2" fill="#c2544e" stroke="#c2544e" stroke-width="0.4" text-anchor="middle" >433mW</text>
<text transform="translate(637.5,222.7) scale(1,1.065)" font-size="14.2" fill="#111" stroke="#111" stroke-width="0.4" text-anchor="middle" >1611</text>
<text transform="translate(668,269.7) scale(1,1.065)" font-size="14.2" fill="#111" stroke="#111" stroke-width="0.4" text-anchor="middle" >HWG2</text>
<text transform="translate(712.5,270.7) scale(1,1.065)" font-size="14.2" fill="#111" stroke="#111" stroke-width="0.4" text-anchor="middle" >PBG1</text>
<text transform="translate(758,270.7) scale(1,1.065)" font-size="14.2" fill="#111" stroke="#111" stroke-width="0.4" text-anchor="middle" >DC6</text>
<text transform="translate(804.5,170.7) scale(1,1.065)" font-size="14.2" fill="#111" stroke="#111" stroke-width="0.4" text-anchor="middle" >MR10</text>
<text transform="translate(808.5,209.7) scale(1,1.065)" font-size="14.2" fill="#111" stroke="#111" stroke-width="0.4" text-anchor="middle" >BS5</text>
<text transform="translate(812.5,225.7) scale(1,1.065)" font-size="14.2" fill="#111" stroke="#111" stroke-width="0.4" text-anchor="middle" >50:50</text>
<text transform="translate(718,230.7) scale(1,1.065)" font-size="14.2" fill="#111" stroke="#111" stroke-width="0.4" text-anchor="middle" >BS</text>
<text transform="translate(725.5,245.7) scale(1,1.065)" font-size="14.2" fill="#111" stroke="#111" stroke-width="0.4" text-anchor="middle" >50:50</text>
<text transform="translate(748,314.7) scale(1,1.065)" font-size="14.2" fill="#111" stroke="#111" stroke-width="0.4" text-anchor="middle" >L16</text>
<text transform="translate(802,300.7) scale(1,1.065)" font-size="14.2" fill="#111" stroke="#111" stroke-width="0.4" text-anchor="middle" >SHG</text>
<text transform="translate(805.5,317.7) scale(1,1.065)" font-size="14.2" fill="#111" stroke="#111" stroke-width="0.4" text-anchor="middle" >Trans.</text>
<text transform="translate(638,307.5) scale(1,0.9)" font-size="10" fill="#d4665e" stroke="#d4665e" stroke-width="0.24" >R1=.9</text>
<text transform="translate(638,316.5) scale(1,0.9)" font-size="10" fill="#d4665e" stroke="#d4665e" stroke-width="0.24" >R2=.9985</text>
<text transform="translate(705.5,335.7) scale(1,1.065)" font-size="14.2" fill="#111" stroke="#111" stroke-width="0.4" text-anchor="middle" >BS11</text>
<text transform="translate(652,373.7) scale(1,1.065)" font-size="14.2" fill="#111" stroke="#111" stroke-width="0.4" text-anchor="middle" >SHG</text>
<text transform="translate(669,386.7) scale(1,1.065)" font-size="14.2" fill="#111" stroke="#111" stroke-width="0.4" text-anchor="middle" >L14</text>
<text transform="translate(718,396.7) scale(1,1.065)" font-size="14.2" fill="#111" stroke="#111" stroke-width="0.4" text-anchor="middle" >MG2</text>
<text transform="translate(872,361.7) scale(1,1.065)" font-size="14.2" fill="#93b86a" stroke="#93b86a" stroke-width="0.4" text-anchor="middle" >19mW</text>
<text transform="translate(750.5,412.7) scale(1,1.065)" font-size="14.2" fill="#111" stroke="#111" stroke-width="0.4" text-anchor="middle" >MR9</text>
<text transform="translate(820,413.7) scale(1,1.065)" font-size="14.2" fill="#111" stroke="#111" stroke-width="0.4" text-anchor="middle" >L9</text>
<text transform="translate(884,382.7) scale(1,1.065)" font-size="14.2" fill="#111" stroke="#111" stroke-width="0.4" text-anchor="middle" >MR8</text>
<text transform="translate(660,434.7) scale(1,1.065)" font-size="14.2" fill="#111" stroke="#111" stroke-width="0.4" text-anchor="middle" >PBS1</text>
<text transform="translate(687,435.7) scale(1,1.065)" font-size="14.2" fill="#c2544e" stroke="#c2544e" stroke-width="0.4" >~2% of SHG<tspan font-size="0.6em">in</tspan></text>
<text transform="translate(826,447.7) scale(1,1.065)" font-size="14.2" fill="#c2544e" stroke="#c2544e" stroke-width="0.4" text-anchor="middle" >15 mW</text>
<text transform="translate(916,435.7) scale(1,1.065)" font-size="14.2" fill="#c2544e" stroke="#c2544e" stroke-width="0.4" text-anchor="middle" >0.6mW</text>
<text transform="translate(699,455.7) scale(1,1.065)" font-size="14.2" fill="#111" stroke="#111" stroke-width="0.4" >SHG</text>
<text transform="translate(699,472.7) scale(1,1.065)" font-size="14.2" fill="#111" stroke="#111" stroke-width="0.4" >BBPD</text>
<text transform="translate(665.5,479.7) scale(1,1.065)" font-size="14.2" fill="#111" stroke="#111" stroke-width="0.4" text-anchor="middle" >HW9</text>
<text transform="translate(790.5,471.8) scale(1,0.9)" font-size="8.5" fill="#111" stroke="#111" stroke-width="0.24" text-anchor="middle" >PMC Trans (temporary)</text>
<text transform="translate(612,539.7) scale(1,1.065)" font-size="14.2" fill="#111" stroke="#111" stroke-width="0.4" text-anchor="middle" >BS2</text>
<text transform="translate(604.5,551.7) scale(1,1.065)" font-size="14.2" fill="#111" stroke="#111" stroke-width="0.4" text-anchor="middle" >70:30</text>
<text transform="translate(664.5,546.7) scale(1,1.065)" font-size="14.2" fill="#c2544e" stroke="#c2544e" stroke-width="0.4" text-anchor="middle" >215mW</text>
<text transform="translate(706.5,506.7) scale(1,1.065)" font-size="14.2" fill="#111" stroke="#111" stroke-width="0.4" text-anchor="middle" >BS3</text>
<text transform="translate(707,522.7) scale(1,1.065)" font-size="14.2" fill="#111" stroke="#111" stroke-width="0.4" text-anchor="middle" >8:92</text>
<text transform="translate(745,511.7) scale(1,1.065)" font-size="14.2" fill="#c2544e" stroke="#c2544e" stroke-width="0.4" text-anchor="middle" >15mW</text>
<text transform="translate(726,547.7) scale(1,1.065)" font-size="14.2" fill="#c2544e" stroke="#c2544e" stroke-width="0.4" text-anchor="middle" >200mW</text>
<text transform="translate(776,561.7) scale(1,1.065)" font-size="14.2" fill="#111" stroke="#111" stroke-width="0.4" text-anchor="middle" >BS11</text>
<text transform="translate(776.5,577.7) scale(1,1.065)" font-size="14.2" fill="#111" stroke="#111" stroke-width="0.4" text-anchor="middle" >10:90</text>
<text transform="translate(836.5,492.7) scale(1,1.065)" font-size="14.2" fill="#111" stroke="#111" stroke-width="0.4" text-anchor="middle" >BS4</text>
<text transform="translate(834.5,509.7) scale(1,1.065)" font-size="14.2" fill="#111" stroke="#111" stroke-width="0.4" text-anchor="middle" >8:92</text>
<text transform="translate(892.5,551.7) scale(1,1.065)" font-size="14.2" fill="#c2544e" stroke="#c2544e" stroke-width="0.4" text-anchor="middle" >170mW</text>
<text transform="translate(902.5,526.7) scale(1,1.065)" font-size="14.2" fill="#111" stroke="#111" stroke-width="0.4" text-anchor="middle" >HW2</text>
<text transform="translate(896,476.7) scale(1,1.065)" font-size="14.2" fill="#111" stroke="#111" stroke-width="0.4" text-anchor="middle" >DC4</text>
<text transform="translate(928.5,464.7) scale(1,1.065)" font-size="14.2" fill="#111" stroke="#111" stroke-width="0.4" text-anchor="middle" >L7</text>
<text transform="translate(758,590.5) scale(1,0.9)" font-size="7.5" fill="#9ae6ee" stroke="#9ae6ee" stroke-width="0.24" >84um waist</text>
<text transform="translate(758,599.0) scale(1,0.9)" font-size="7.5" fill="#9ae6ee" stroke="#9ae6ee" stroke-width="0.24" >9.5cm from L3</text>
<text transform="translate(758,607.5) scale(1,0.9)" font-size="7.5" fill="#9ae6ee" stroke="#9ae6ee" stroke-width="0.24" >62.5 inch from PMCw0</text>
<text transform="translate(948.5,584.7) scale(1,1.065)" font-size="14.2" fill="#111" stroke="#111" stroke-width="0.4" text-anchor="middle" >AOM1</text>
<text transform="translate(949,598.7) scale(1,1.065)" font-size="14.2" fill="#111" stroke="#111" stroke-width="0.4" text-anchor="middle" >-200 MHz</text>
<text transform="translate(611,607.7) scale(1,1.065)" font-size="14.2" fill="#111" stroke="#111" stroke-width="0.4" text-anchor="middle" >L2</text>
<text transform="translate(608.5,616.7) scale(1,0.9)" font-size="8.2" fill="#111" stroke="#111" stroke-width="0.24" text-anchor="middle" >ROC100</text>
<text transform="translate(633.5,656.7) scale(1,1.065)" font-size="14.2" fill="#111" stroke="#111" stroke-width="0.4" text-anchor="middle" >MR2</text>
<text transform="translate(665.5,633.7) scale(1,1.065)" font-size="14.2" fill="#111" stroke="#111" stroke-width="0.4" text-anchor="middle" >MR3</text>
<text transform="translate(705.5,635.7) scale(1,1.065)" font-size="14.2" fill="#111" stroke="#111" stroke-width="0.4" text-anchor="middle" >L3</text>
<text transform="translate(706.5,645.7) scale(1,0.9)" font-size="8.2" fill="#111" stroke="#111" stroke-width="0.24" text-anchor="middle" >ROC75</text>
<text transform="translate(690.5,655.7) scale(1,0.9)" font-size="8.2" fill="#111" stroke="#111" stroke-width="0.24" >1.495m from PMCw0</text>
<text transform="translate(690.5,665.7) scale(1,0.9)" font-size="8.2" fill="#111" stroke="#111" stroke-width="0.24" >unchanged from the original solution</text>
<text transform="translate(808,630.7) scale(1,1.065)" font-size="14.2" fill="#c2544e" stroke="#c2544e" stroke-width="0.4" text-anchor="middle" >17 mW</text>
<text transform="translate(872.5,640.7) scale(1,1.065)" font-size="14.2" fill="#111" stroke="#111" stroke-width="0.4" text-anchor="middle" >L4</text>
<text transform="translate(941,638.7) scale(1,1.065)" font-size="14.2" fill="#c2544e" stroke="#c2544e" stroke-width="0.4" text-anchor="middle" >37.5%</text>
<text transform="translate(938.5,647.6) scale(1,0.9)" font-size="8" fill="#c2544e" stroke="#c2544e" stroke-width="0.24" text-anchor="middle" >efficiency</text>
<text transform="translate(1040.5,609.7) scale(1,1.065)" font-size="14.2" fill="#111" stroke="#111" stroke-width="0.4" text-anchor="middle" >+1st</text>
<text transform="translate(990,644.7) scale(1,1.065)" font-size="14.2" fill="#111" stroke="#111" stroke-width="0.4" text-anchor="middle" >0th</text>
<text transform="translate(1096,642.7) scale(1,1.065)" font-size="14.2" fill="#111" stroke="#111" stroke-width="0.4" text-anchor="middle" >L5</text>
<text transform="translate(1194,643.7) scale(1,1.065)" font-size="14.2" fill="#111" stroke="#111" stroke-width="0.4" text-anchor="middle" >AOM2</text>
<text transform="translate(1199,657.7) scale(1,1.065)" font-size="14.2" fill="#111" stroke="#111" stroke-width="0.4" text-anchor="middle" >+203.1 MHz</text>
<text transform="translate(1188.5,590.7) scale(1,1.065)" font-size="14.2" fill="#c2544e" stroke="#c2544e" stroke-width="0.4" text-anchor="middle" >54%</text>
<text transform="translate(1185,600.6) scale(1,0.9)" font-size="8" fill="#c2544e" stroke="#c2544e" stroke-width="0.24" text-anchor="middle" >efficiency</text>
<text transform="translate(1239.5,595.7) scale(1,1.065)" font-size="14.2" fill="#111" stroke="#111" stroke-width="0.4" text-anchor="middle" >0th</text>
<text transform="translate(1274,630.7) scale(1,1.065)" font-size="14.2" fill="#111" stroke="#111" stroke-width="0.4" text-anchor="middle" >-1st</text>
<text transform="translate(1269.5,561.7) scale(1,1.065)" font-size="14.2" fill="#111" stroke="#111" stroke-width="0.4" text-anchor="middle" >alog</text>
<text transform="translate(1267,576.7) scale(1,1.065)" font-size="14.2" fill="#111" stroke="#111" stroke-width="0.4" text-anchor="middle" >47145</text>
<text transform="translate(1312.5,557.7) scale(1,1.065)" font-size="14.2" fill="#111" stroke="#111" stroke-width="0.4" text-anchor="middle" >L6</text>
<text transform="translate(1354,637.7) scale(1,1.065)" font-size="14.2" fill="#111" stroke="#111" stroke-width="0.4" text-anchor="middle" >MR4</text>
<text transform="translate(1307.5,523.7) scale(1,1.065)" font-size="14.2" fill="#111" stroke="#111" stroke-width="0.4" text-anchor="middle" >HW3</text>
<text transform="translate(1305,483.7) scale(1,1.065)" font-size="14.2" fill="#111" stroke="#111" stroke-width="0.4" text-anchor="middle" >PBS1</text>
<text transform="translate(1336,451.7) scale(1,1.065)" font-size="14.2" fill="#111" stroke="#111" stroke-width="0.4" text-anchor="middle" >DC3</text>
<text transform="translate(1140.5,537.7) scale(1,1.065)" font-size="14.2" fill="#111" stroke="#111" stroke-width="0.4" text-anchor="middle" >QW1</text>
<text transform="translate(1199,537.7) scale(1,1.065)" font-size="14.2" fill="#111" stroke="#111" stroke-width="0.4" text-anchor="middle" >HW4</text>
<text transform="translate(1041.5,507.7) scale(1,1.065)" font-size="14.2" fill="#111" stroke="#111" stroke-width="0.4" text-anchor="middle" >BS6</text>
<text transform="translate(1039,522.7) scale(1,1.065)" font-size="14.2" fill="#111" stroke="#111" stroke-width="0.4" text-anchor="middle" >95:5</text>
<text transform="translate(982,520.7) scale(1,1.065)" font-size="14.2" fill="#111" stroke="#111" stroke-width="0.4" text-anchor="middle" >QW2</text>
<text transform="translate(952,557.7) scale(1,1.065)" font-size="14.2" fill="#111" stroke="#111" stroke-width="0.4" text-anchor="middle" >PBS2</text>
<text transform="translate(993,555.7) scale(1,1.065)" font-size="14.2" fill="#c2544e" stroke="#c2544e" stroke-width="0.4" text-anchor="middle" >0.8mW</text>
<text transform="translate(1019.5,559.7) scale(1,1.065)" font-size="14.2" fill="#111" stroke="#111" stroke-width="0.4" text-anchor="middle" >PZT1</text>
<text transform="translate(1035,435.7) scale(1,1.065)" font-size="14.2" fill="#111" stroke="#111" stroke-width="0.4" text-anchor="middle" >MR5</text>
<text transform="translate(1194,451.7) scale(1,1.065)" font-size="14.2" fill="#111" stroke="#111" stroke-width="0.4" text-anchor="middle" >COPO</text>
<text transform="translate(1176,394.7) scale(1,1.065)" font-size="14.2" fill="#111" stroke="#111" stroke-width="0.4" text-anchor="middle" >MF3</text>
<text transform="translate(969.5,392.7) scale(1,1.065)" font-size="14.2" fill="#111" stroke="#111" stroke-width="0.4" text-anchor="middle" >BG2</text>
<text transform="translate(969,408.7) scale(1,1.065)" font-size="14.2" fill="#111" stroke="#111" stroke-width="0.4" text-anchor="middle" >95:5</text>
<text transform="translate(1049.5,373.7) scale(1,1.065)" font-size="14.2" fill="#111" stroke="#111" stroke-width="0.4" text-anchor="middle" >DC7</text>
<text transform="translate(998.5,359.7) scale(1,1.065)" font-size="14.2" fill="#93b86a" stroke="#93b86a" stroke-width="0.4" text-anchor="middle" >1mW</text>
<text transform="translate(1177.5,342.7) scale(1,1.065)" font-size="14.2" fill="#111" stroke="#111" stroke-width="0.4" text-anchor="middle" >POPO</text>
<text transform="translate(1106.5,303.7) scale(1,1.065)" font-size="14.2" fill="#111" stroke="#111" stroke-width="0.4" text-anchor="middle" >MF1</text>
<text transform="translate(1050.5,324.7) scale(1,1.065)" font-size="14.2" fill="#111" stroke="#111" stroke-width="0.4" text-anchor="middle" >QWG1</text>
<text transform="translate(1008.5,296.7) scale(1,1.065)" font-size="14.2" fill="#111" stroke="#111" stroke-width="0.4" text-anchor="middle" >HWG3</text>
<text transform="translate(968,296.7) scale(1,1.065)" font-size="14.2" fill="#111" stroke="#111" stroke-width="0.4" text-anchor="middle" >MG3</text>
<text transform="translate(933,272.7) scale(1,1.065)" font-size="14.2" fill="#111" stroke="#111" stroke-width="0.4" text-anchor="middle" >BS7</text>
<text transform="translate(930.5,287.7) scale(1,1.065)" font-size="14.2" fill="#111" stroke="#111" stroke-width="0.4" text-anchor="middle" >98:2</text>
<text transform="translate(1018,241.7) scale(1,1.065)" font-size="14.2" fill="#111" stroke="#111" stroke-width="0.4" text-anchor="middle" >L8</text>
<text transform="translate(1097.5,274.7) scale(1,1.065)" font-size="14.2" fill="#111" stroke="#111" stroke-width="0.4" text-anchor="middle" >1/4</text>
<text transform="translate(974,216.7) scale(1,1.065)" font-size="14.2" fill="#111" stroke="#111" stroke-width="0.4" text-anchor="middle" >DC5</text>
<text transform="translate(1135,235.7) scale(1,1.065)" font-size="14.2" fill="#111" stroke="#111" stroke-width="0.4" text-anchor="middle" >DC8</text>
<text transform="translate(1229.5,261.7) scale(1,1.065)" font-size="14.2" fill="#111" stroke="#111" stroke-width="0.4" text-anchor="middle" >MR6</text>
<text transform="translate(1173.5,227.7) scale(1,1.065)" font-size="14.2" fill="#111" stroke="#111" stroke-width="0.4" text-anchor="middle" >MR7</text>
<text transform="translate(1295.5,241.7) scale(1,1.065)" font-size="14.2" fill="#111" stroke="#111" stroke-width="0.4" text-anchor="middle" >SOPO</text>
<text transform="translate(1213.5,199.7) scale(1,1.065)" font-size="14.2" fill="#111" stroke="#111" stroke-width="0.4" text-anchor="middle" >1/2</text>
<text transform="translate(1163,202.7) scale(1,1.065)" font-size="14.2" fill="#111" stroke="#111" stroke-width="0.4" text-anchor="middle" >XMR8</text>
<text transform="translate(1263.5,183.7) scale(1,1.065)" font-size="14.2" fill="#111" stroke="#111" stroke-width="0.4" text-anchor="middle" >MF4</text>
<text transform="translate(1314,161.7) scale(1,1.065)" font-size="14.2" fill="#111" stroke="#111" stroke-width="0.4" text-anchor="middle" >LO</text>
<text transform="translate(1169,179.7) scale(1,1.065)" font-size="14.2" fill="#111" stroke="#111" stroke-width="0.4" text-anchor="middle" >MR11</text>
<text transform="translate(1130.5,179.7) scale(1,1.065)" font-size="14.2" fill="#111" stroke="#111" stroke-width="0.4" text-anchor="middle" >QW3</text>
<text transform="translate(1140.5,141.7) scale(1,1.065)" font-size="14.2" fill="#111" stroke="#111" stroke-width="0.4" text-anchor="middle" >PZT2</text>
<text transform="translate(1080,150.7) scale(1,1.065)" font-size="14.2" fill="#111" stroke="#111" stroke-width="0.4" text-anchor="middle" >PBS3</text>
<text transform="translate(1078,188.7) scale(1,1.065)" font-size="14.2" fill="#111" stroke="#111" stroke-width="0.4" text-anchor="middle" >BS10</text>
<text transform="translate(1078,205.7) scale(1,1.065)" font-size="14.2" fill="#111" stroke="#111" stroke-width="0.4" text-anchor="middle" >95:5</text>
<text transform="translate(1008.5,181.7) scale(1,1.065)" font-size="14.2" fill="#111" stroke="#111" stroke-width="0.4" text-anchor="middle" >HW5</text>
<text transform="translate(1049.5,180.7) scale(1,1.065)" font-size="14.2" fill="#111" stroke="#111" stroke-width="0.4" text-anchor="middle" >L10</text>
</svg>
</body></html>
